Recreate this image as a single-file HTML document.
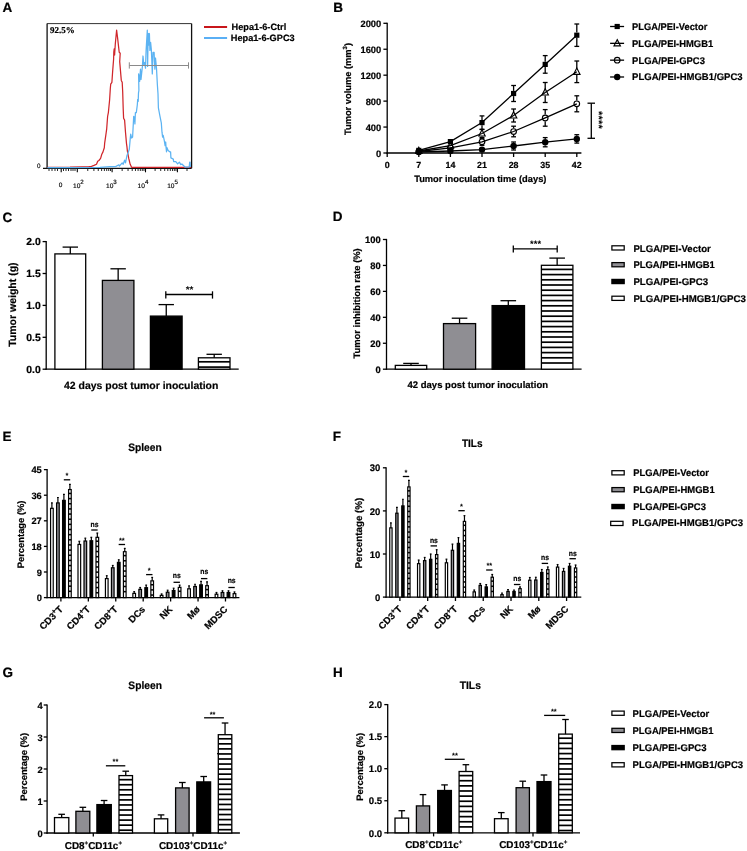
<!DOCTYPE html>
<html><head><meta charset="utf-8"><style>
html,body{margin:0;padding:0;background:#fff;}
svg{display:block;}

</style></head><body>
<svg width="747" height="851" viewBox="0 0 747 851" style="will-change:transform" text-rendering="geometricPrecision">
<style>text[font-weight="bold"]{stroke:#000;stroke-width:0.2px;paint-order:stroke}text.st{stroke:none}</style>
<rect x="0" y="0" width="747" height="851" fill="#fff"/>
<text x="2.60" y="11.80" font-size="13.5" font-weight="bold" font-family="'Liberation Sans', sans-serif" text-anchor="start" fill="#000">A</text>
<text x="333.20" y="12.20" font-size="13.5" font-weight="bold" font-family="'Liberation Sans', sans-serif" text-anchor="start" fill="#000">B</text>
<text x="2.40" y="222.10" font-size="13.5" font-weight="bold" font-family="'Liberation Sans', sans-serif" text-anchor="start" fill="#000">C</text>
<text x="332.70" y="221.40" font-size="13.5" font-weight="bold" font-family="'Liberation Sans', sans-serif" text-anchor="start" fill="#000">D</text>
<text x="2.40" y="441.40" font-size="13.5" font-weight="bold" font-family="'Liberation Sans', sans-serif" text-anchor="start" fill="#000">E</text>
<text x="332.70" y="441.40" font-size="13.5" font-weight="bold" font-family="'Liberation Sans', sans-serif" text-anchor="start" fill="#000">F</text>
<text x="2.40" y="677.10" font-size="13.5" font-weight="bold" font-family="'Liberation Sans', sans-serif" text-anchor="start" fill="#000">G</text>
<text x="332.90" y="677.00" font-size="13.5" font-weight="bold" font-family="'Liberation Sans', sans-serif" text-anchor="start" fill="#000">H</text>
<line x1="47.10" y1="23.60" x2="191.60" y2="23.60" stroke="#333" stroke-width="1.0"/>
<line x1="191.60" y1="23.60" x2="191.60" y2="168.30" stroke="#111" stroke-width="1.3"/>
<line x1="47.10" y1="23.60" x2="47.10" y2="168.30" stroke="#111" stroke-width="1.3"/>
<line x1="43.00" y1="168.30" x2="191.60" y2="168.30" stroke="#111" stroke-width="1.3"/>
<text x="37.10" y="168.40" font-size="6.3" font-weight="normal" font-family="'Liberation Sans', sans-serif" text-anchor="start" fill="#000" stroke="#000" stroke-width="0.15">0</text>
<text x="49.90" y="32.50" font-size="9" font-weight="bold" font-family="'Liberation Serif', serif" text-anchor="start" fill="#000">92.5%</text>
<line x1="61.20" y1="168.30" x2="61.20" y2="172.30" stroke="#000" stroke-width="1.1"/>
<line x1="77.30" y1="168.30" x2="77.30" y2="172.30" stroke="#000" stroke-width="1.1"/>
<line x1="112.10" y1="168.30" x2="112.10" y2="172.30" stroke="#000" stroke-width="1.1"/>
<line x1="145.50" y1="168.30" x2="145.50" y2="172.30" stroke="#000" stroke-width="1.1"/>
<line x1="177.40" y1="168.30" x2="177.40" y2="172.30" stroke="#000" stroke-width="1.1"/>
<line x1="49.00" y1="168.30" x2="49.00" y2="171.00" stroke="#111" stroke-width="0.9"/>
<line x1="52.00" y1="168.30" x2="52.00" y2="171.00" stroke="#111" stroke-width="0.9"/>
<line x1="55.00" y1="168.30" x2="55.00" y2="171.00" stroke="#111" stroke-width="0.9"/>
<line x1="57.50" y1="168.30" x2="57.50" y2="171.00" stroke="#111" stroke-width="0.9"/>
<line x1="63.50" y1="168.30" x2="63.50" y2="171.00" stroke="#111" stroke-width="0.9"/>
<line x1="66.00" y1="168.30" x2="66.00" y2="171.00" stroke="#111" stroke-width="0.9"/>
<line x1="68.50" y1="168.30" x2="68.50" y2="171.00" stroke="#111" stroke-width="0.9"/>
<line x1="71.00" y1="168.30" x2="71.00" y2="171.00" stroke="#111" stroke-width="0.9"/>
<line x1="73.00" y1="168.30" x2="73.00" y2="171.00" stroke="#111" stroke-width="0.9"/>
<line x1="75.00" y1="168.30" x2="75.00" y2="171.00" stroke="#111" stroke-width="0.9"/>
<line x1="87.78" y1="168.30" x2="87.78" y2="171.00" stroke="#111" stroke-width="0.9"/>
<line x1="93.90" y1="168.30" x2="93.90" y2="171.00" stroke="#111" stroke-width="0.9"/>
<line x1="98.25" y1="168.30" x2="98.25" y2="171.00" stroke="#111" stroke-width="0.9"/>
<line x1="101.62" y1="168.30" x2="101.62" y2="171.00" stroke="#111" stroke-width="0.9"/>
<line x1="104.38" y1="168.30" x2="104.38" y2="171.00" stroke="#111" stroke-width="0.9"/>
<line x1="106.71" y1="168.30" x2="106.71" y2="171.00" stroke="#111" stroke-width="0.9"/>
<line x1="108.73" y1="168.30" x2="108.73" y2="171.00" stroke="#111" stroke-width="0.9"/>
<line x1="110.51" y1="168.30" x2="110.51" y2="171.00" stroke="#111" stroke-width="0.9"/>
<line x1="122.15" y1="168.30" x2="122.15" y2="171.00" stroke="#111" stroke-width="0.9"/>
<line x1="128.04" y1="168.30" x2="128.04" y2="171.00" stroke="#111" stroke-width="0.9"/>
<line x1="132.21" y1="168.30" x2="132.21" y2="171.00" stroke="#111" stroke-width="0.9"/>
<line x1="135.45" y1="168.30" x2="135.45" y2="171.00" stroke="#111" stroke-width="0.9"/>
<line x1="138.09" y1="168.30" x2="138.09" y2="171.00" stroke="#111" stroke-width="0.9"/>
<line x1="140.33" y1="168.30" x2="140.33" y2="171.00" stroke="#111" stroke-width="0.9"/>
<line x1="142.26" y1="168.30" x2="142.26" y2="171.00" stroke="#111" stroke-width="0.9"/>
<line x1="143.97" y1="168.30" x2="143.97" y2="171.00" stroke="#111" stroke-width="0.9"/>
<line x1="155.10" y1="168.30" x2="155.10" y2="171.00" stroke="#111" stroke-width="0.9"/>
<line x1="160.72" y1="168.30" x2="160.72" y2="171.00" stroke="#111" stroke-width="0.9"/>
<line x1="164.71" y1="168.30" x2="164.71" y2="171.00" stroke="#111" stroke-width="0.9"/>
<line x1="167.80" y1="168.30" x2="167.80" y2="171.00" stroke="#111" stroke-width="0.9"/>
<line x1="170.32" y1="168.30" x2="170.32" y2="171.00" stroke="#111" stroke-width="0.9"/>
<line x1="172.46" y1="168.30" x2="172.46" y2="171.00" stroke="#111" stroke-width="0.9"/>
<line x1="174.31" y1="168.30" x2="174.31" y2="171.00" stroke="#111" stroke-width="0.9"/>
<line x1="175.94" y1="168.30" x2="175.94" y2="171.00" stroke="#111" stroke-width="0.9"/>
<line x1="187.00" y1="168.30" x2="187.00" y2="171.00" stroke="#111" stroke-width="0.9"/>
<text x="58.80" y="187.30" font-size="6.5" font-weight="normal" font-family="'Liberation Sans', sans-serif" text-anchor="start" fill="#000" stroke="#000" stroke-width="0.15">0</text>
<text x="73.00" y="187.50" font-size="6.6" font-weight="normal" font-family="'Liberation Sans', sans-serif" text-anchor="start" fill="#000" stroke="#000" stroke-width="0.15">10</text>
<text x="80.30" y="183.60" font-size="6.2" font-weight="normal" font-family="'Liberation Sans', sans-serif" text-anchor="start" fill="#000" stroke="#000" stroke-width="0.15">2</text>
<text x="106.00" y="187.50" font-size="6.6" font-weight="normal" font-family="'Liberation Sans', sans-serif" text-anchor="start" fill="#000" stroke="#000" stroke-width="0.15">10</text>
<text x="113.30" y="183.60" font-size="6.2" font-weight="normal" font-family="'Liberation Sans', sans-serif" text-anchor="start" fill="#000" stroke="#000" stroke-width="0.15">3</text>
<text x="137.60" y="187.50" font-size="6.6" font-weight="normal" font-family="'Liberation Sans', sans-serif" text-anchor="start" fill="#000" stroke="#000" stroke-width="0.15">10</text>
<text x="144.90" y="183.60" font-size="6.2" font-weight="normal" font-family="'Liberation Sans', sans-serif" text-anchor="start" fill="#000" stroke="#000" stroke-width="0.15">4</text>
<text x="167.20" y="187.50" font-size="6.6" font-weight="normal" font-family="'Liberation Sans', sans-serif" text-anchor="start" fill="#000" stroke="#000" stroke-width="0.15">10</text>
<text x="174.50" y="183.60" font-size="6.2" font-weight="normal" font-family="'Liberation Sans', sans-serif" text-anchor="start" fill="#000" stroke="#000" stroke-width="0.15">5</text>
<path d="M47.50 167.40 L70.00 167.20 L82.50 166.80 L88.20 166.80 L91.50 166.30 L94.00 165.40 L96.50 164.20 L97.70 161.30 L98.90 160.50 L100.60 158.40 L101.80 154.30 L103.00 151.90 L104.30 147.70 L104.70 142.80 L105.90 134.60 L106.70 128.80 L107.60 116.50 L108.40 112.30 L109.60 100.00 L110.30 88.80 L110.70 84.20 L111.90 82.30 L112.60 72.00 L113.60 59.30 L113.80 52.00 L114.20 48.90 L114.60 55.00 L115.30 44.00 L116.60 30.20 L117.50 37.20 L119.20 52.20 L120.20 53.20 L119.70 61.60 L121.30 80.40 L122.20 82.30 L122.70 92.00 L123.20 108.80 L123.60 118.20 L124.60 120.10 L125.50 132.30 L126.50 143.60 L126.90 146.40 L127.40 151.10 L128.80 158.70 L130.20 164.30 L131.60 167.30 L191.20 167.30" stroke="#d0262b" stroke-width="1.25" fill="none" stroke-linejoin="round"/>
<path d="M47.50 167.60 L100.00 167.30 L110.00 166.60 L115.60 166.60 L118.90 164.80 L119.40 166.20 L122.20 162.90 L123.20 164.30 L124.60 160.10 L125.50 162.90 L126.90 155.80 L128.30 152.10 L129.30 149.20 L130.20 138.90 L130.70 134.20 L131.60 138.00 L132.60 137.00 L133.00 129.50 L133.70 116.30 L134.50 118.20 L134.90 123.90 L135.40 112.60 L136.30 112.60 L137.30 105.00 L137.70 99.40 L138.20 101.30 L138.50 92.80 L138.90 90.50 L138.60 73.90 L139.60 81.40 L140.50 69.20 L141.00 79.50 L142.40 66.40 L143.00 56.00 L143.80 64.50 L144.70 62.60 L145.50 68.20 L146.10 50.40 L146.60 42.00 L147.30 30.20 L147.60 66.40 L148.10 40.00 L148.50 33.50 L149.00 45.00 L149.40 33.50 L149.90 50.40 L150.60 42.40 L151.30 49.40 L151.80 60.00 L152.30 73.90 L153.00 52.30 L154.10 52.30 L154.50 62.00 L154.90 69.20 L155.50 58.00 L156.50 68.20 L157.40 85.20 L158.00 93.80 L158.40 107.90 L159.80 115.40 L161.30 122.90 L162.00 132.20 L162.60 137.10 L163.20 135.30 L164.20 140.20 L165.10 145.60 L165.70 142.00 L166.00 146.90 L166.50 151.80 L166.90 147.50 L168.10 150.50 L169.70 151.80 L170.60 151.80 L170.90 157.90 L173.30 159.10 L173.60 161.50 L175.80 161.50 L177.60 163.90 L179.40 162.10 L180.60 164.60 L181.90 164.00 L183.70 165.80 L184.90 167.00 L189.20 167.00 L189.70 162.10 L190.10 162.10 L190.40 167.00" stroke="#5cb3f2" stroke-width="1.25" fill="none" stroke-linejoin="round"/>
<line x1="129.30" y1="65.50" x2="188.50" y2="65.50" stroke="#8a8a8a" stroke-width="1.0"/>
<line x1="129.30" y1="62.30" x2="129.30" y2="68.60" stroke="#8a8a8a" stroke-width="1.0"/>
<line x1="188.50" y1="62.30" x2="188.50" y2="68.60" stroke="#8a8a8a" stroke-width="1.0"/>
<line x1="204.00" y1="27.00" x2="227.10" y2="27.00" stroke="#c8161b" stroke-width="2.0"/>
<line x1="204.00" y1="38.00" x2="227.10" y2="38.00" stroke="#5aaff5" stroke-width="2.0"/>
<text x="231.60" y="29.90" font-size="9.2" font-weight="bold" font-family="'Liberation Sans', sans-serif" text-anchor="start" fill="#000">Hepa1-6-Ctrl</text>
<text x="230.80" y="41.10" font-size="9.2" font-weight="bold" font-family="'Liberation Sans', sans-serif" text-anchor="start" fill="#000">Hepa1-6-GPC3</text>
<line x1="387.20" y1="22.65" x2="387.20" y2="153.65" stroke="#000" stroke-width="1.3"/>
<line x1="386.55" y1="153.00" x2="581.40" y2="153.00" stroke="#000" stroke-width="1.3"/>
<line x1="383.40" y1="153.00" x2="387.20" y2="153.00" stroke="#000" stroke-width="1.3"/>
<text x="381.20" y="156.50" font-size="9.3" font-weight="bold" font-family="'Liberation Sans', sans-serif" text-anchor="end" fill="#000">0</text>
<line x1="383.40" y1="127.06" x2="387.20" y2="127.06" stroke="#000" stroke-width="1.3"/>
<text x="381.20" y="130.56" font-size="9.3" font-weight="bold" font-family="'Liberation Sans', sans-serif" text-anchor="end" fill="#000">400</text>
<line x1="383.40" y1="101.12" x2="387.20" y2="101.12" stroke="#000" stroke-width="1.3"/>
<text x="381.20" y="104.62" font-size="9.3" font-weight="bold" font-family="'Liberation Sans', sans-serif" text-anchor="end" fill="#000">800</text>
<line x1="383.40" y1="75.18" x2="387.20" y2="75.18" stroke="#000" stroke-width="1.3"/>
<text x="381.20" y="78.68" font-size="9.3" font-weight="bold" font-family="'Liberation Sans', sans-serif" text-anchor="end" fill="#000">1200</text>
<line x1="383.40" y1="49.24" x2="387.20" y2="49.24" stroke="#000" stroke-width="1.3"/>
<text x="381.20" y="52.74" font-size="9.3" font-weight="bold" font-family="'Liberation Sans', sans-serif" text-anchor="end" fill="#000">1600</text>
<line x1="383.40" y1="23.30" x2="387.20" y2="23.30" stroke="#000" stroke-width="1.3"/>
<text x="381.20" y="26.80" font-size="9.3" font-weight="bold" font-family="'Liberation Sans', sans-serif" text-anchor="end" fill="#000">2000</text>
<line x1="387.20" y1="153.00" x2="387.20" y2="157.00" stroke="#000" stroke-width="1.3"/>
<text x="387.20" y="167.90" font-size="8.9" font-weight="bold" font-family="'Liberation Sans', sans-serif" text-anchor="middle" fill="#000">0</text>
<line x1="418.80" y1="153.00" x2="418.80" y2="157.00" stroke="#000" stroke-width="1.3"/>
<text x="418.80" y="167.90" font-size="8.9" font-weight="bold" font-family="'Liberation Sans', sans-serif" text-anchor="middle" fill="#000">7</text>
<line x1="450.40" y1="153.00" x2="450.40" y2="157.00" stroke="#000" stroke-width="1.3"/>
<text x="450.40" y="167.90" font-size="8.9" font-weight="bold" font-family="'Liberation Sans', sans-serif" text-anchor="middle" fill="#000">14</text>
<line x1="482.00" y1="153.00" x2="482.00" y2="157.00" stroke="#000" stroke-width="1.3"/>
<text x="482.00" y="167.90" font-size="8.9" font-weight="bold" font-family="'Liberation Sans', sans-serif" text-anchor="middle" fill="#000">21</text>
<line x1="513.60" y1="153.00" x2="513.60" y2="157.00" stroke="#000" stroke-width="1.3"/>
<text x="513.60" y="167.90" font-size="8.9" font-weight="bold" font-family="'Liberation Sans', sans-serif" text-anchor="middle" fill="#000">28</text>
<line x1="545.20" y1="153.00" x2="545.20" y2="157.00" stroke="#000" stroke-width="1.3"/>
<text x="545.20" y="167.90" font-size="8.9" font-weight="bold" font-family="'Liberation Sans', sans-serif" text-anchor="middle" fill="#000">35</text>
<line x1="576.80" y1="153.00" x2="576.80" y2="157.00" stroke="#000" stroke-width="1.3"/>
<text x="576.80" y="167.90" font-size="8.9" font-weight="bold" font-family="'Liberation Sans', sans-serif" text-anchor="middle" fill="#000">42</text>
<text x="480.30" y="182.00" font-size="9.32" font-weight="bold" font-family="'Liberation Sans', sans-serif" text-anchor="middle" fill="#000">Tumor inoculation time (days)</text>
<text transform="translate(350.6 89) rotate(-90)" font-size="9.3" font-weight="bold" font-family="'Liberation Sans', sans-serif" text-anchor="middle">Tumor volume (mm<tspan font-size="6" dy="-3.6">3</tspan><tspan dy="3.6">)</tspan></text>
<path d="M418.80 150.40 L450.40 141.60 L482.00 122.60 L513.60 93.50 L545.20 64.40 L576.80 35.20" stroke="#000" stroke-width="1.3" fill="none"/>
<path d="M418.80 151.00 L450.40 145.60 L482.00 133.50 L513.60 115.50 L545.20 92.50 L576.80 71.80" stroke="#000" stroke-width="1.3" fill="none"/>
<path d="M418.80 151.50 L450.40 147.80 L482.00 141.80 L513.60 131.50 L545.20 117.90 L576.80 103.80" stroke="#000" stroke-width="1.3" fill="none"/>
<path d="M418.80 152.00 L450.40 151.00 L482.00 149.60 L513.60 146.00 L545.20 142.20 L576.80 138.90" stroke="#000" stroke-width="1.3" fill="none"/>
<line x1="482.00" y1="115.90" x2="482.00" y2="120.00" stroke="#000" stroke-width="1.3"/>
<line x1="482.00" y1="125.20" x2="482.00" y2="129.30" stroke="#000" stroke-width="1.3"/>
<line x1="479.60" y1="115.90" x2="484.40" y2="115.90" stroke="#000" stroke-width="1.3"/>
<line x1="479.60" y1="129.30" x2="484.40" y2="129.30" stroke="#000" stroke-width="1.3"/>
<line x1="513.60" y1="85.50" x2="513.60" y2="90.90" stroke="#000" stroke-width="1.3"/>
<line x1="513.60" y1="96.10" x2="513.60" y2="101.50" stroke="#000" stroke-width="1.3"/>
<line x1="511.20" y1="85.50" x2="516.00" y2="85.50" stroke="#000" stroke-width="1.3"/>
<line x1="511.20" y1="101.50" x2="516.00" y2="101.50" stroke="#000" stroke-width="1.3"/>
<line x1="545.20" y1="55.60" x2="545.20" y2="61.80" stroke="#000" stroke-width="1.3"/>
<line x1="545.20" y1="67.00" x2="545.20" y2="73.20" stroke="#000" stroke-width="1.3"/>
<line x1="542.80" y1="55.60" x2="547.60" y2="55.60" stroke="#000" stroke-width="1.3"/>
<line x1="542.80" y1="73.20" x2="547.60" y2="73.20" stroke="#000" stroke-width="1.3"/>
<line x1="576.80" y1="24.00" x2="576.80" y2="32.60" stroke="#000" stroke-width="1.3"/>
<line x1="576.80" y1="37.80" x2="576.80" y2="46.40" stroke="#000" stroke-width="1.3"/>
<line x1="574.40" y1="24.00" x2="579.20" y2="24.00" stroke="#000" stroke-width="1.3"/>
<line x1="574.40" y1="46.40" x2="579.20" y2="46.40" stroke="#000" stroke-width="1.3"/>
<line x1="482.00" y1="129.50" x2="482.00" y2="130.50" stroke="#000" stroke-width="1.3"/>
<line x1="482.00" y1="136.50" x2="482.00" y2="137.50" stroke="#000" stroke-width="1.3"/>
<line x1="479.60" y1="129.50" x2="484.40" y2="129.50" stroke="#000" stroke-width="1.3"/>
<line x1="479.60" y1="137.50" x2="484.40" y2="137.50" stroke="#000" stroke-width="1.3"/>
<line x1="513.60" y1="109.00" x2="513.60" y2="112.50" stroke="#000" stroke-width="1.3"/>
<line x1="513.60" y1="118.50" x2="513.60" y2="122.00" stroke="#000" stroke-width="1.3"/>
<line x1="511.20" y1="109.00" x2="516.00" y2="109.00" stroke="#000" stroke-width="1.3"/>
<line x1="511.20" y1="122.00" x2="516.00" y2="122.00" stroke="#000" stroke-width="1.3"/>
<line x1="545.20" y1="82.50" x2="545.20" y2="89.50" stroke="#000" stroke-width="1.3"/>
<line x1="545.20" y1="95.50" x2="545.20" y2="102.50" stroke="#000" stroke-width="1.3"/>
<line x1="542.80" y1="82.50" x2="547.60" y2="82.50" stroke="#000" stroke-width="1.3"/>
<line x1="542.80" y1="102.50" x2="547.60" y2="102.50" stroke="#000" stroke-width="1.3"/>
<line x1="576.80" y1="61.00" x2="576.80" y2="68.80" stroke="#000" stroke-width="1.3"/>
<line x1="576.80" y1="74.80" x2="576.80" y2="82.60" stroke="#000" stroke-width="1.3"/>
<line x1="574.40" y1="61.00" x2="579.20" y2="61.00" stroke="#000" stroke-width="1.3"/>
<line x1="574.40" y1="82.60" x2="579.20" y2="82.60" stroke="#000" stroke-width="1.3"/>
<line x1="482.00" y1="138.30" x2="482.00" y2="138.50" stroke="#000" stroke-width="1.3"/>
<line x1="482.00" y1="145.10" x2="482.00" y2="145.30" stroke="#000" stroke-width="1.3"/>
<line x1="479.60" y1="138.30" x2="484.40" y2="138.30" stroke="#000" stroke-width="1.3"/>
<line x1="479.60" y1="145.30" x2="484.40" y2="145.30" stroke="#000" stroke-width="1.3"/>
<line x1="513.60" y1="126.20" x2="513.60" y2="128.20" stroke="#000" stroke-width="1.3"/>
<line x1="513.60" y1="134.80" x2="513.60" y2="136.80" stroke="#000" stroke-width="1.3"/>
<line x1="511.20" y1="126.20" x2="516.00" y2="126.20" stroke="#000" stroke-width="1.3"/>
<line x1="511.20" y1="136.80" x2="516.00" y2="136.80" stroke="#000" stroke-width="1.3"/>
<line x1="545.20" y1="109.60" x2="545.20" y2="114.60" stroke="#000" stroke-width="1.3"/>
<line x1="545.20" y1="121.20" x2="545.20" y2="126.20" stroke="#000" stroke-width="1.3"/>
<line x1="542.80" y1="109.60" x2="547.60" y2="109.60" stroke="#000" stroke-width="1.3"/>
<line x1="542.80" y1="126.20" x2="547.60" y2="126.20" stroke="#000" stroke-width="1.3"/>
<line x1="576.80" y1="95.80" x2="576.80" y2="100.50" stroke="#000" stroke-width="1.3"/>
<line x1="576.80" y1="107.10" x2="576.80" y2="111.80" stroke="#000" stroke-width="1.3"/>
<line x1="574.40" y1="95.80" x2="579.20" y2="95.80" stroke="#000" stroke-width="1.3"/>
<line x1="574.40" y1="111.80" x2="579.20" y2="111.80" stroke="#000" stroke-width="1.3"/>
<line x1="513.60" y1="142.00" x2="513.60" y2="142.80" stroke="#000" stroke-width="1.3"/>
<line x1="513.60" y1="149.20" x2="513.60" y2="150.00" stroke="#000" stroke-width="1.3"/>
<line x1="511.20" y1="142.00" x2="516.00" y2="142.00" stroke="#000" stroke-width="1.3"/>
<line x1="511.20" y1="150.00" x2="516.00" y2="150.00" stroke="#000" stroke-width="1.3"/>
<line x1="545.20" y1="137.60" x2="545.20" y2="139.00" stroke="#000" stroke-width="1.3"/>
<line x1="545.20" y1="145.40" x2="545.20" y2="146.80" stroke="#000" stroke-width="1.3"/>
<line x1="542.80" y1="137.60" x2="547.60" y2="137.60" stroke="#000" stroke-width="1.3"/>
<line x1="542.80" y1="146.80" x2="547.60" y2="146.80" stroke="#000" stroke-width="1.3"/>
<line x1="576.80" y1="134.70" x2="576.80" y2="135.70" stroke="#000" stroke-width="1.3"/>
<line x1="576.80" y1="142.10" x2="576.80" y2="143.10" stroke="#000" stroke-width="1.3"/>
<line x1="574.40" y1="134.70" x2="579.20" y2="134.70" stroke="#000" stroke-width="1.3"/>
<line x1="574.40" y1="143.10" x2="579.20" y2="143.10" stroke="#000" stroke-width="1.3"/>
<rect x="416.20" y="147.80" width="5.20" height="5.20" fill="#000"/>
<rect x="447.80" y="139.00" width="5.20" height="5.20" fill="#000"/>
<rect x="479.40" y="120.00" width="5.20" height="5.20" fill="#000"/>
<rect x="511.00" y="90.90" width="5.20" height="5.20" fill="#000"/>
<rect x="542.60" y="61.80" width="5.20" height="5.20" fill="#000"/>
<rect x="574.20" y="32.60" width="5.20" height="5.20" fill="#000"/>
<path d="M418.80 147.30 L422.00 153.50 L415.60 153.50 Z" fill="none" stroke="#000" stroke-width="1.15" stroke-linejoin="miter"/>
<path d="M450.40 141.90 L453.60 148.10 L447.20 148.10 Z" fill="none" stroke="#000" stroke-width="1.15" stroke-linejoin="miter"/>
<path d="M482.00 129.80 L485.20 136.00 L478.80 136.00 Z" fill="none" stroke="#000" stroke-width="1.15" stroke-linejoin="miter"/>
<path d="M513.60 111.80 L516.80 118.00 L510.40 118.00 Z" fill="none" stroke="#000" stroke-width="1.15" stroke-linejoin="miter"/>
<path d="M545.20 88.80 L548.40 95.00 L542.00 95.00 Z" fill="none" stroke="#000" stroke-width="1.15" stroke-linejoin="miter"/>
<path d="M576.80 68.10 L580.00 74.30 L573.60 74.30 Z" fill="none" stroke="#000" stroke-width="1.15" stroke-linejoin="miter"/>
<circle cx="418.80" cy="151.50" r="2.80" fill="none" stroke="#000" stroke-width="1.15"/>
<circle cx="450.40" cy="147.80" r="2.80" fill="none" stroke="#000" stroke-width="1.15"/>
<circle cx="482.00" cy="141.80" r="2.80" fill="none" stroke="#000" stroke-width="1.15"/>
<circle cx="513.60" cy="131.50" r="2.80" fill="none" stroke="#000" stroke-width="1.15"/>
<circle cx="545.20" cy="117.90" r="2.80" fill="none" stroke="#000" stroke-width="1.15"/>
<circle cx="576.80" cy="103.80" r="2.80" fill="none" stroke="#000" stroke-width="1.15"/>
<circle cx="418.80" cy="152.00" r="3.20" fill="#000"/>
<circle cx="450.40" cy="151.00" r="3.20" fill="#000"/>
<circle cx="482.00" cy="149.60" r="3.20" fill="#000"/>
<circle cx="513.60" cy="146.00" r="3.20" fill="#000"/>
<circle cx="545.20" cy="142.20" r="3.20" fill="#000"/>
<circle cx="576.80" cy="138.90" r="3.20" fill="#000"/>
<line x1="591.30" y1="103.20" x2="591.30" y2="138.30" stroke="#000" stroke-width="1.3"/>
<line x1="587.50" y1="103.20" x2="595.00" y2="103.20" stroke="#000" stroke-width="1.3"/>
<line x1="587.50" y1="138.30" x2="595.00" y2="138.30" stroke="#000" stroke-width="1.3"/>
<text class="st" transform="translate(595.0 111.0) rotate(90)" font-size="11" letter-spacing="0.2" font-weight="bold" font-family="'Liberation Sans', sans-serif">****</text>
<rect x="614.60" y="23.90" width="5.20" height="5.20" fill="#000"/>
<line x1="610.10" y1="26.50" x2="624.10" y2="26.50" stroke="#000" stroke-width="1.3"/>
<text x="632.10" y="30.10" font-size="9.7" font-weight="bold" font-family="'Liberation Sans', sans-serif" text-anchor="start" fill="#000" textLength="75.20" lengthAdjust="spacingAndGlyphs">PLGA/PEI-Vector</text>
<path d="M617.20 39.63 L620.40 45.83 L614.00 45.83 Z" fill="none" stroke="#000" stroke-width="1.15" stroke-linejoin="miter"/>
<line x1="610.10" y1="43.33" x2="624.10" y2="43.33" stroke="#000" stroke-width="1.3"/>
<text x="632.10" y="47.00" font-size="9.7" font-weight="bold" font-family="'Liberation Sans', sans-serif" text-anchor="start" fill="#000" textLength="81.10" lengthAdjust="spacingAndGlyphs">PLGA/PEI-HMGB1</text>
<circle cx="617.20" cy="60.16" r="2.80" fill="none" stroke="#000" stroke-width="1.15"/>
<line x1="610.10" y1="60.16" x2="624.10" y2="60.16" stroke="#000" stroke-width="1.3"/>
<text x="632.10" y="63.50" font-size="9.7" font-weight="bold" font-family="'Liberation Sans', sans-serif" text-anchor="start" fill="#000" textLength="72.80" lengthAdjust="spacingAndGlyphs">PLGA/PEI-GPC3</text>
<circle cx="617.20" cy="76.99" r="3.20" fill="#000"/>
<line x1="610.10" y1="76.99" x2="624.10" y2="76.99" stroke="#000" stroke-width="1.3"/>
<text x="632.10" y="80.20" font-size="9.7" font-weight="bold" font-family="'Liberation Sans', sans-serif" text-anchor="start" fill="#000" textLength="110.50" lengthAdjust="spacingAndGlyphs">PLGA/PEI-HMGB1/GPC3</text>
<line x1="46.20" y1="241.00" x2="46.20" y2="369.85" stroke="#000" stroke-width="1.3"/>
<line x1="45.55" y1="369.20" x2="238.70" y2="369.20" stroke="#000" stroke-width="1.3"/>
<line x1="42.60" y1="369.20" x2="46.20" y2="369.20" stroke="#000" stroke-width="1.3"/>
<text x="40.80" y="372.90" font-size="10.4" font-weight="bold" font-family="'Liberation Sans', sans-serif" text-anchor="end" fill="#000">0.0</text>
<line x1="42.60" y1="337.30" x2="46.20" y2="337.30" stroke="#000" stroke-width="1.3"/>
<text x="40.80" y="341.00" font-size="10.4" font-weight="bold" font-family="'Liberation Sans', sans-serif" text-anchor="end" fill="#000">0.5</text>
<line x1="42.60" y1="305.40" x2="46.20" y2="305.40" stroke="#000" stroke-width="1.3"/>
<text x="40.80" y="309.10" font-size="10.4" font-weight="bold" font-family="'Liberation Sans', sans-serif" text-anchor="end" fill="#000">1.0</text>
<line x1="42.60" y1="273.50" x2="46.20" y2="273.50" stroke="#000" stroke-width="1.3"/>
<text x="40.80" y="277.20" font-size="10.4" font-weight="bold" font-family="'Liberation Sans', sans-serif" text-anchor="end" fill="#000">1.5</text>
<line x1="42.60" y1="241.60" x2="46.20" y2="241.60" stroke="#000" stroke-width="1.3"/>
<text x="40.80" y="245.30" font-size="10.4" font-weight="bold" font-family="'Liberation Sans', sans-serif" text-anchor="end" fill="#000">2.0</text>
<rect x="54.90" y="253.90" width="30.80" height="115.30" fill="#fff" stroke="#000" stroke-width="1.3"/>
<line x1="70.30" y1="247.10" x2="70.30" y2="253.90" stroke="#000" stroke-width="1.3"/>
<line x1="62.60" y1="247.10" x2="78.00" y2="247.10" stroke="#000" stroke-width="1.3"/>
<rect x="102.40" y="280.40" width="31.50" height="88.80" fill="#8f8e93" stroke="#000" stroke-width="1.3"/>
<line x1="118.15" y1="268.80" x2="118.15" y2="280.40" stroke="#000" stroke-width="1.3"/>
<line x1="110.45" y1="268.80" x2="125.85" y2="268.80" stroke="#000" stroke-width="1.3"/>
<rect x="150.40" y="316.10" width="31.70" height="53.10" fill="#000" stroke="#000" stroke-width="1.3"/>
<line x1="166.25" y1="304.60" x2="166.25" y2="316.10" stroke="#000" stroke-width="1.3"/>
<line x1="158.55" y1="304.60" x2="173.95" y2="304.60" stroke="#000" stroke-width="1.3"/>
<rect x="198.40" y="357.80" width="31.60" height="11.40" fill="#fff" stroke="#000" stroke-width="1.3"/>
<line x1="198.40" y1="361.80" x2="230.00" y2="361.80" stroke="#000" stroke-width="1.7"/>
<line x1="198.40" y1="367.10" x2="230.00" y2="367.10" stroke="#000" stroke-width="1.7"/>
<line x1="214.20" y1="354.30" x2="214.20" y2="357.80" stroke="#000" stroke-width="1.3"/>
<line x1="206.50" y1="354.30" x2="221.90" y2="354.30" stroke="#000" stroke-width="1.3"/>
<line x1="165.80" y1="294.50" x2="212.50" y2="294.50" stroke="#000" stroke-width="1.3"/>
<line x1="165.80" y1="291.30" x2="165.80" y2="298.60" stroke="#000" stroke-width="1.3"/>
<line x1="212.50" y1="291.30" x2="212.50" y2="298.60" stroke="#000" stroke-width="1.3"/>
<text x="189.60" y="293.20" font-size="10.0" font-weight="bold" font-family="'Liberation Sans', sans-serif" text-anchor="middle" fill="#000" class="st">**</text>
<text x="141.20" y="388.60" font-size="10.45" font-weight="bold" font-family="'Liberation Sans', sans-serif" text-anchor="middle" fill="#000">42 days post tumor inoculation</text>
<text transform="translate(16.4 304.6) rotate(-90)" font-size="10.5" font-weight="bold" font-family="'Liberation Sans', sans-serif" text-anchor="middle">Tumor weight (g)</text>
<line x1="386.50" y1="238.90" x2="386.50" y2="369.85" stroke="#000" stroke-width="1.3"/>
<line x1="385.85" y1="369.20" x2="581.60" y2="369.20" stroke="#000" stroke-width="1.3"/>
<line x1="382.90" y1="369.20" x2="386.50" y2="369.20" stroke="#000" stroke-width="1.3"/>
<text x="380.70" y="373.00" font-size="9.4" font-weight="bold" font-family="'Liberation Sans', sans-serif" text-anchor="end" fill="#000">0</text>
<line x1="382.90" y1="343.26" x2="386.50" y2="343.26" stroke="#000" stroke-width="1.3"/>
<text x="380.70" y="347.06" font-size="9.4" font-weight="bold" font-family="'Liberation Sans', sans-serif" text-anchor="end" fill="#000">20</text>
<line x1="382.90" y1="317.32" x2="386.50" y2="317.32" stroke="#000" stroke-width="1.3"/>
<text x="380.70" y="321.12" font-size="9.4" font-weight="bold" font-family="'Liberation Sans', sans-serif" text-anchor="end" fill="#000">40</text>
<line x1="382.90" y1="291.38" x2="386.50" y2="291.38" stroke="#000" stroke-width="1.3"/>
<text x="380.70" y="295.18" font-size="9.4" font-weight="bold" font-family="'Liberation Sans', sans-serif" text-anchor="end" fill="#000">60</text>
<line x1="382.90" y1="265.44" x2="386.50" y2="265.44" stroke="#000" stroke-width="1.3"/>
<text x="380.70" y="269.24" font-size="9.4" font-weight="bold" font-family="'Liberation Sans', sans-serif" text-anchor="end" fill="#000">80</text>
<line x1="382.90" y1="239.50" x2="386.50" y2="239.50" stroke="#000" stroke-width="1.3"/>
<text x="380.70" y="243.30" font-size="9.4" font-weight="bold" font-family="'Liberation Sans', sans-serif" text-anchor="end" fill="#000">100</text>
<rect x="395.30" y="365.40" width="31.40" height="3.80" fill="#fff" stroke="#000" stroke-width="1.3"/>
<line x1="411.00" y1="363.40" x2="411.00" y2="365.40" stroke="#000" stroke-width="1.3"/>
<line x1="403.20" y1="363.40" x2="418.80" y2="363.40" stroke="#000" stroke-width="1.3"/>
<rect x="443.50" y="323.60" width="32.10" height="45.60" fill="#8f8e93" stroke="#000" stroke-width="1.3"/>
<line x1="459.55" y1="318.20" x2="459.55" y2="323.60" stroke="#000" stroke-width="1.3"/>
<line x1="451.75" y1="318.20" x2="467.35" y2="318.20" stroke="#000" stroke-width="1.3"/>
<rect x="492.10" y="305.60" width="32.40" height="63.60" fill="#000" stroke="#000" stroke-width="1.3"/>
<line x1="508.30" y1="300.70" x2="508.30" y2="305.60" stroke="#000" stroke-width="1.3"/>
<line x1="500.50" y1="300.70" x2="516.10" y2="300.70" stroke="#000" stroke-width="1.3"/>
<rect x="541.40" y="265.30" width="31.50" height="103.90" fill="#fff" stroke="#000" stroke-width="1.3"/>
<line x1="541.40" y1="269.40" x2="572.90" y2="269.40" stroke="#000" stroke-width="1.7"/>
<line x1="541.40" y1="274.60" x2="572.90" y2="274.60" stroke="#000" stroke-width="1.7"/>
<line x1="541.40" y1="279.80" x2="572.90" y2="279.80" stroke="#000" stroke-width="1.7"/>
<line x1="541.40" y1="285.00" x2="572.90" y2="285.00" stroke="#000" stroke-width="1.7"/>
<line x1="541.40" y1="290.20" x2="572.90" y2="290.20" stroke="#000" stroke-width="1.7"/>
<line x1="541.40" y1="295.40" x2="572.90" y2="295.40" stroke="#000" stroke-width="1.7"/>
<line x1="541.40" y1="300.60" x2="572.90" y2="300.60" stroke="#000" stroke-width="1.7"/>
<line x1="541.40" y1="305.80" x2="572.90" y2="305.80" stroke="#000" stroke-width="1.7"/>
<line x1="541.40" y1="311.00" x2="572.90" y2="311.00" stroke="#000" stroke-width="1.7"/>
<line x1="541.40" y1="316.20" x2="572.90" y2="316.20" stroke="#000" stroke-width="1.7"/>
<line x1="541.40" y1="321.40" x2="572.90" y2="321.40" stroke="#000" stroke-width="1.7"/>
<line x1="541.40" y1="326.60" x2="572.90" y2="326.60" stroke="#000" stroke-width="1.7"/>
<line x1="541.40" y1="331.80" x2="572.90" y2="331.80" stroke="#000" stroke-width="1.7"/>
<line x1="541.40" y1="337.00" x2="572.90" y2="337.00" stroke="#000" stroke-width="1.7"/>
<line x1="541.40" y1="342.20" x2="572.90" y2="342.20" stroke="#000" stroke-width="1.7"/>
<line x1="541.40" y1="347.40" x2="572.90" y2="347.40" stroke="#000" stroke-width="1.7"/>
<line x1="541.40" y1="352.60" x2="572.90" y2="352.60" stroke="#000" stroke-width="1.7"/>
<line x1="541.40" y1="357.80" x2="572.90" y2="357.80" stroke="#000" stroke-width="1.7"/>
<line x1="541.40" y1="363.00" x2="572.90" y2="363.00" stroke="#000" stroke-width="1.7"/>
<line x1="557.15" y1="258.10" x2="557.15" y2="265.30" stroke="#000" stroke-width="1.3"/>
<line x1="549.35" y1="258.10" x2="564.95" y2="258.10" stroke="#000" stroke-width="1.3"/>
<line x1="513.30" y1="248.80" x2="557.20" y2="248.80" stroke="#000" stroke-width="1.3"/>
<line x1="513.30" y1="245.40" x2="513.30" y2="252.50" stroke="#000" stroke-width="1.3"/>
<line x1="557.20" y1="245.40" x2="557.20" y2="252.50" stroke="#000" stroke-width="1.3"/>
<text x="535.60" y="247.40" font-size="9.4" font-weight="bold" font-family="'Liberation Sans', sans-serif" text-anchor="middle" fill="#000" class="st">***</text>
<text x="477.80" y="387.50" font-size="9.5" font-weight="bold" font-family="'Liberation Sans', sans-serif" text-anchor="middle" fill="#000">42 days post tumor inoculation</text>
<text transform="translate(360.3 303.4) rotate(-90)" font-size="9.4" font-weight="bold" font-family="'Liberation Sans', sans-serif" text-anchor="middle">Tumor inhibition rate (%)</text>
<rect x="611.90" y="245.80" width="12.3" height="4.2" fill="#fff" stroke="#000" stroke-width="1.25"/>
<text x="633.40" y="251.50" font-size="9.7" font-weight="bold" font-family="'Liberation Sans', sans-serif" text-anchor="start" fill="#000" textLength="77.40" lengthAdjust="spacingAndGlyphs">PLGA/PEI-Vector</text>
<rect x="611.90" y="262.60" width="12.3" height="4.2" fill="#8f8e93" stroke="#000" stroke-width="1.25"/>
<text x="633.40" y="268.40" font-size="9.7" font-weight="bold" font-family="'Liberation Sans', sans-serif" text-anchor="start" fill="#000" textLength="81.50" lengthAdjust="spacingAndGlyphs">PLGA/PEI-HMGB1</text>
<rect x="611.90" y="279.40" width="12.3" height="4.2" fill="#000" stroke="#000" stroke-width="1.25"/>
<text x="633.40" y="284.90" font-size="9.7" font-weight="bold" font-family="'Liberation Sans', sans-serif" text-anchor="start" fill="#000" textLength="74.70" lengthAdjust="spacingAndGlyphs">PLGA/PEI-GPC3</text>
<rect x="611.90" y="296.20" width="12.3" height="4.2" fill="#fff" stroke="#000" stroke-width="1.25"/>
<text x="633.40" y="301.80" font-size="9.7" font-weight="bold" font-family="'Liberation Sans', sans-serif" text-anchor="start" fill="#000" textLength="112.40" lengthAdjust="spacingAndGlyphs">PLGA/PEI-HMGB1/GPC3</text>
<line x1="47.10" y1="469.07" x2="47.10" y2="598.15" stroke="#000" stroke-width="1.3"/>
<line x1="46.55" y1="597.60" x2="239.40" y2="597.60" stroke="#000" stroke-width="1.3"/>
<line x1="43.90" y1="597.60" x2="47.10" y2="597.60" stroke="#000" stroke-width="1.3"/>
<text x="41.80" y="601.20" font-size="9.3" font-weight="bold" font-family="'Liberation Sans', sans-serif" text-anchor="end" fill="#000">0</text>
<line x1="43.90" y1="572.00" x2="47.10" y2="572.00" stroke="#000" stroke-width="1.3"/>
<text x="41.80" y="575.60" font-size="9.3" font-weight="bold" font-family="'Liberation Sans', sans-serif" text-anchor="end" fill="#000">9</text>
<line x1="43.90" y1="546.41" x2="47.10" y2="546.41" stroke="#000" stroke-width="1.3"/>
<text x="41.80" y="550.01" font-size="9.3" font-weight="bold" font-family="'Liberation Sans', sans-serif" text-anchor="end" fill="#000">18</text>
<line x1="43.90" y1="520.81" x2="47.10" y2="520.81" stroke="#000" stroke-width="1.3"/>
<text x="41.80" y="524.41" font-size="9.3" font-weight="bold" font-family="'Liberation Sans', sans-serif" text-anchor="end" fill="#000">27</text>
<line x1="43.90" y1="495.22" x2="47.10" y2="495.22" stroke="#000" stroke-width="1.3"/>
<text x="41.80" y="498.82" font-size="9.3" font-weight="bold" font-family="'Liberation Sans', sans-serif" text-anchor="end" fill="#000">36</text>
<line x1="43.90" y1="469.62" x2="47.10" y2="469.62" stroke="#000" stroke-width="1.3"/>
<text x="41.80" y="473.22" font-size="9.3" font-weight="bold" font-family="'Liberation Sans', sans-serif" text-anchor="end" fill="#000">45</text>
<line x1="60.90" y1="597.60" x2="60.90" y2="601.50" stroke="#000" stroke-width="1.3"/>
<line x1="88.33" y1="597.60" x2="88.33" y2="601.50" stroke="#000" stroke-width="1.3"/>
<line x1="115.76" y1="597.60" x2="115.76" y2="601.50" stroke="#000" stroke-width="1.3"/>
<line x1="143.19" y1="597.60" x2="143.19" y2="601.50" stroke="#000" stroke-width="1.3"/>
<line x1="170.62" y1="597.60" x2="170.62" y2="601.50" stroke="#000" stroke-width="1.3"/>
<line x1="198.05" y1="597.60" x2="198.05" y2="601.50" stroke="#000" stroke-width="1.3"/>
<line x1="225.48" y1="597.60" x2="225.48" y2="601.50" stroke="#000" stroke-width="1.3"/>
<rect x="50.58" y="508.33" width="2.65" height="89.27" fill="#fff" stroke="#000" stroke-width="1.2"/>
<line x1="51.90" y1="502.89" x2="51.90" y2="508.33" stroke="#000" stroke-width="1.2"/>
<line x1="51.00" y1="502.89" x2="52.80" y2="502.89" stroke="#000" stroke-width="1.2"/>
<rect x="56.58" y="502.93" width="2.65" height="94.67" fill="#8f8e93" stroke="#000" stroke-width="1.2"/>
<line x1="57.90" y1="497.49" x2="57.90" y2="502.93" stroke="#000" stroke-width="1.2"/>
<line x1="57.00" y1="497.49" x2="58.80" y2="497.49" stroke="#000" stroke-width="1.2"/>
<rect x="62.58" y="500.37" width="2.65" height="97.23" fill="#000" stroke="#000" stroke-width="1.2"/>
<line x1="63.90" y1="494.36" x2="63.90" y2="500.37" stroke="#000" stroke-width="1.2"/>
<line x1="63.00" y1="494.36" x2="64.80" y2="494.36" stroke="#000" stroke-width="1.2"/>
<rect x="68.58" y="489.56" width="2.65" height="108.04" fill="#fff" stroke="#000" stroke-width="1.2"/>
<line x1="68.58" y1="493.46" x2="71.23" y2="493.46" stroke="#000" stroke-width="1.55"/>
<line x1="68.58" y1="498.61" x2="71.23" y2="498.61" stroke="#000" stroke-width="1.55"/>
<line x1="68.58" y1="503.76" x2="71.23" y2="503.76" stroke="#000" stroke-width="1.55"/>
<line x1="68.58" y1="508.91" x2="71.23" y2="508.91" stroke="#000" stroke-width="1.55"/>
<line x1="68.58" y1="514.06" x2="71.23" y2="514.06" stroke="#000" stroke-width="1.55"/>
<line x1="68.58" y1="519.21" x2="71.23" y2="519.21" stroke="#000" stroke-width="1.55"/>
<line x1="68.58" y1="524.36" x2="71.23" y2="524.36" stroke="#000" stroke-width="1.55"/>
<line x1="68.58" y1="529.51" x2="71.23" y2="529.51" stroke="#000" stroke-width="1.55"/>
<line x1="68.58" y1="534.66" x2="71.23" y2="534.66" stroke="#000" stroke-width="1.55"/>
<line x1="68.58" y1="539.81" x2="71.23" y2="539.81" stroke="#000" stroke-width="1.55"/>
<line x1="68.58" y1="544.96" x2="71.23" y2="544.96" stroke="#000" stroke-width="1.55"/>
<line x1="68.58" y1="550.11" x2="71.23" y2="550.11" stroke="#000" stroke-width="1.55"/>
<line x1="68.58" y1="555.26" x2="71.23" y2="555.26" stroke="#000" stroke-width="1.55"/>
<line x1="68.58" y1="560.41" x2="71.23" y2="560.41" stroke="#000" stroke-width="1.55"/>
<line x1="68.58" y1="565.56" x2="71.23" y2="565.56" stroke="#000" stroke-width="1.55"/>
<line x1="68.58" y1="570.71" x2="71.23" y2="570.71" stroke="#000" stroke-width="1.55"/>
<line x1="68.58" y1="575.86" x2="71.23" y2="575.86" stroke="#000" stroke-width="1.55"/>
<line x1="68.58" y1="581.01" x2="71.23" y2="581.01" stroke="#000" stroke-width="1.55"/>
<line x1="68.58" y1="586.16" x2="71.23" y2="586.16" stroke="#000" stroke-width="1.55"/>
<line x1="68.58" y1="591.31" x2="71.23" y2="591.31" stroke="#000" stroke-width="1.55"/>
<line x1="69.90" y1="484.41" x2="69.90" y2="489.56" stroke="#000" stroke-width="1.2"/>
<line x1="69.00" y1="484.41" x2="70.80" y2="484.41" stroke="#000" stroke-width="1.2"/>
<rect x="78.00" y="544.45" width="2.65" height="53.15" fill="#fff" stroke="#000" stroke-width="1.2"/>
<line x1="79.33" y1="541.29" x2="79.33" y2="544.45" stroke="#000" stroke-width="1.2"/>
<line x1="78.43" y1="541.29" x2="80.23" y2="541.29" stroke="#000" stroke-width="1.2"/>
<rect x="84.00" y="541.04" width="2.65" height="56.56" fill="#8f8e93" stroke="#000" stroke-width="1.2"/>
<line x1="85.33" y1="538.16" x2="85.33" y2="541.04" stroke="#000" stroke-width="1.2"/>
<line x1="84.43" y1="538.16" x2="86.23" y2="538.16" stroke="#000" stroke-width="1.2"/>
<rect x="90.00" y="540.75" width="2.65" height="56.85" fill="#000" stroke="#000" stroke-width="1.2"/>
<line x1="91.33" y1="537.31" x2="91.33" y2="540.75" stroke="#000" stroke-width="1.2"/>
<line x1="90.43" y1="537.31" x2="92.23" y2="537.31" stroke="#000" stroke-width="1.2"/>
<rect x="96.00" y="537.34" width="2.65" height="60.26" fill="#fff" stroke="#000" stroke-width="1.2"/>
<line x1="96.00" y1="541.24" x2="98.66" y2="541.24" stroke="#000" stroke-width="1.55"/>
<line x1="96.00" y1="546.39" x2="98.66" y2="546.39" stroke="#000" stroke-width="1.55"/>
<line x1="96.00" y1="551.54" x2="98.66" y2="551.54" stroke="#000" stroke-width="1.55"/>
<line x1="96.00" y1="556.69" x2="98.66" y2="556.69" stroke="#000" stroke-width="1.55"/>
<line x1="96.00" y1="561.84" x2="98.66" y2="561.84" stroke="#000" stroke-width="1.55"/>
<line x1="96.00" y1="566.99" x2="98.66" y2="566.99" stroke="#000" stroke-width="1.55"/>
<line x1="96.00" y1="572.14" x2="98.66" y2="572.14" stroke="#000" stroke-width="1.55"/>
<line x1="96.00" y1="577.29" x2="98.66" y2="577.29" stroke="#000" stroke-width="1.55"/>
<line x1="96.00" y1="582.44" x2="98.66" y2="582.44" stroke="#000" stroke-width="1.55"/>
<line x1="96.00" y1="587.59" x2="98.66" y2="587.59" stroke="#000" stroke-width="1.55"/>
<line x1="96.00" y1="592.74" x2="98.66" y2="592.74" stroke="#000" stroke-width="1.55"/>
<line x1="97.33" y1="533.04" x2="97.33" y2="537.34" stroke="#000" stroke-width="1.2"/>
<line x1="96.43" y1="533.04" x2="98.23" y2="533.04" stroke="#000" stroke-width="1.2"/>
<rect x="105.43" y="578.58" width="2.65" height="19.02" fill="#fff" stroke="#000" stroke-width="1.2"/>
<line x1="106.76" y1="575.70" x2="106.76" y2="578.58" stroke="#000" stroke-width="1.2"/>
<line x1="105.86" y1="575.70" x2="107.66" y2="575.70" stroke="#000" stroke-width="1.2"/>
<rect x="111.43" y="567.77" width="2.65" height="29.83" fill="#8f8e93" stroke="#000" stroke-width="1.2"/>
<line x1="112.76" y1="565.46" x2="112.76" y2="567.77" stroke="#000" stroke-width="1.2"/>
<line x1="111.86" y1="565.46" x2="113.66" y2="565.46" stroke="#000" stroke-width="1.2"/>
<rect x="117.43" y="562.37" width="2.65" height="35.23" fill="#000" stroke="#000" stroke-width="1.2"/>
<line x1="118.76" y1="559.77" x2="118.76" y2="562.37" stroke="#000" stroke-width="1.2"/>
<line x1="117.86" y1="559.77" x2="119.66" y2="559.77" stroke="#000" stroke-width="1.2"/>
<rect x="123.43" y="551.70" width="2.65" height="45.90" fill="#fff" stroke="#000" stroke-width="1.2"/>
<line x1="123.43" y1="555.60" x2="126.08" y2="555.60" stroke="#000" stroke-width="1.55"/>
<line x1="123.43" y1="560.75" x2="126.08" y2="560.75" stroke="#000" stroke-width="1.55"/>
<line x1="123.43" y1="565.90" x2="126.08" y2="565.90" stroke="#000" stroke-width="1.55"/>
<line x1="123.43" y1="571.05" x2="126.08" y2="571.05" stroke="#000" stroke-width="1.55"/>
<line x1="123.43" y1="576.20" x2="126.08" y2="576.20" stroke="#000" stroke-width="1.55"/>
<line x1="123.43" y1="581.35" x2="126.08" y2="581.35" stroke="#000" stroke-width="1.55"/>
<line x1="123.43" y1="586.50" x2="126.08" y2="586.50" stroke="#000" stroke-width="1.55"/>
<line x1="123.43" y1="591.65" x2="126.08" y2="591.65" stroke="#000" stroke-width="1.55"/>
<line x1="124.76" y1="548.40" x2="124.76" y2="551.70" stroke="#000" stroke-width="1.2"/>
<line x1="123.86" y1="548.40" x2="125.66" y2="548.40" stroke="#000" stroke-width="1.2"/>
<rect x="132.86" y="593.37" width="2.65" height="4.23" fill="#fff" stroke="#000" stroke-width="1.2"/>
<line x1="134.19" y1="591.63" x2="134.19" y2="593.37" stroke="#000" stroke-width="1.2"/>
<line x1="133.29" y1="591.63" x2="135.09" y2="591.63" stroke="#000" stroke-width="1.2"/>
<rect x="138.86" y="589.38" width="2.65" height="8.22" fill="#8f8e93" stroke="#000" stroke-width="1.2"/>
<line x1="140.19" y1="587.50" x2="140.19" y2="589.38" stroke="#000" stroke-width="1.2"/>
<line x1="139.29" y1="587.50" x2="141.09" y2="587.50" stroke="#000" stroke-width="1.2"/>
<rect x="144.86" y="587.68" width="2.65" height="9.92" fill="#000" stroke="#000" stroke-width="1.2"/>
<line x1="146.19" y1="585.09" x2="146.19" y2="587.68" stroke="#000" stroke-width="1.2"/>
<line x1="145.29" y1="585.09" x2="147.09" y2="585.09" stroke="#000" stroke-width="1.2"/>
<rect x="150.86" y="580.85" width="2.65" height="16.75" fill="#fff" stroke="#000" stroke-width="1.2"/>
<line x1="150.86" y1="584.75" x2="153.52" y2="584.75" stroke="#000" stroke-width="1.55"/>
<line x1="150.86" y1="589.90" x2="153.52" y2="589.90" stroke="#000" stroke-width="1.55"/>
<line x1="150.86" y1="595.05" x2="153.52" y2="595.05" stroke="#000" stroke-width="1.55"/>
<line x1="152.19" y1="577.41" x2="152.19" y2="580.85" stroke="#000" stroke-width="1.2"/>
<line x1="151.29" y1="577.41" x2="153.09" y2="577.41" stroke="#000" stroke-width="1.2"/>
<rect x="160.29" y="595.36" width="2.65" height="2.24" fill="#fff" stroke="#000" stroke-width="1.2"/>
<line x1="161.62" y1="593.90" x2="161.62" y2="595.36" stroke="#000" stroke-width="1.2"/>
<line x1="160.72" y1="593.90" x2="162.52" y2="593.90" stroke="#000" stroke-width="1.2"/>
<rect x="166.29" y="592.23" width="2.65" height="5.37" fill="#8f8e93" stroke="#000" stroke-width="1.2"/>
<line x1="167.62" y1="590.21" x2="167.62" y2="592.23" stroke="#000" stroke-width="1.2"/>
<line x1="166.72" y1="590.21" x2="168.52" y2="590.21" stroke="#000" stroke-width="1.2"/>
<rect x="172.29" y="590.52" width="2.65" height="7.08" fill="#000" stroke="#000" stroke-width="1.2"/>
<line x1="173.62" y1="588.21" x2="173.62" y2="590.52" stroke="#000" stroke-width="1.2"/>
<line x1="172.72" y1="588.21" x2="174.52" y2="588.21" stroke="#000" stroke-width="1.2"/>
<rect x="178.29" y="587.39" width="2.65" height="10.21" fill="#fff" stroke="#000" stroke-width="1.2"/>
<line x1="178.29" y1="591.29" x2="180.95" y2="591.29" stroke="#000" stroke-width="1.55"/>
<line x1="179.62" y1="585.09" x2="179.62" y2="587.39" stroke="#000" stroke-width="1.2"/>
<line x1="178.72" y1="585.09" x2="180.52" y2="585.09" stroke="#000" stroke-width="1.2"/>
<rect x="187.72" y="588.81" width="2.65" height="8.79" fill="#fff" stroke="#000" stroke-width="1.2"/>
<line x1="189.05" y1="585.94" x2="189.05" y2="588.81" stroke="#000" stroke-width="1.2"/>
<line x1="188.15" y1="585.94" x2="189.95" y2="585.94" stroke="#000" stroke-width="1.2"/>
<rect x="193.72" y="586.54" width="2.65" height="11.06" fill="#8f8e93" stroke="#000" stroke-width="1.2"/>
<line x1="195.05" y1="584.23" x2="195.05" y2="586.54" stroke="#000" stroke-width="1.2"/>
<line x1="194.15" y1="584.23" x2="195.95" y2="584.23" stroke="#000" stroke-width="1.2"/>
<rect x="199.72" y="584.83" width="2.65" height="12.77" fill="#000" stroke="#000" stroke-width="1.2"/>
<line x1="201.05" y1="581.39" x2="201.05" y2="584.83" stroke="#000" stroke-width="1.2"/>
<line x1="200.15" y1="581.39" x2="201.95" y2="581.39" stroke="#000" stroke-width="1.2"/>
<rect x="205.72" y="585.69" width="2.65" height="11.91" fill="#fff" stroke="#000" stroke-width="1.2"/>
<line x1="205.72" y1="589.59" x2="208.38" y2="589.59" stroke="#000" stroke-width="1.55"/>
<line x1="205.72" y1="594.74" x2="208.38" y2="594.74" stroke="#000" stroke-width="1.55"/>
<line x1="207.05" y1="581.82" x2="207.05" y2="585.69" stroke="#000" stroke-width="1.2"/>
<line x1="206.15" y1="581.82" x2="207.95" y2="581.82" stroke="#000" stroke-width="1.2"/>
<rect x="215.15" y="594.22" width="2.65" height="3.38" fill="#fff" stroke="#000" stroke-width="1.2"/>
<line x1="216.48" y1="592.48" x2="216.48" y2="594.22" stroke="#000" stroke-width="1.2"/>
<line x1="215.58" y1="592.48" x2="217.38" y2="592.48" stroke="#000" stroke-width="1.2"/>
<rect x="221.15" y="592.51" width="2.65" height="5.09" fill="#8f8e93" stroke="#000" stroke-width="1.2"/>
<line x1="222.48" y1="590.77" x2="222.48" y2="592.51" stroke="#000" stroke-width="1.2"/>
<line x1="221.58" y1="590.77" x2="223.38" y2="590.77" stroke="#000" stroke-width="1.2"/>
<rect x="227.15" y="592.51" width="2.65" height="5.09" fill="#000" stroke="#000" stroke-width="1.2"/>
<line x1="228.48" y1="590.77" x2="228.48" y2="592.51" stroke="#000" stroke-width="1.2"/>
<line x1="227.58" y1="590.77" x2="229.38" y2="590.77" stroke="#000" stroke-width="1.2"/>
<rect x="233.15" y="593.65" width="2.65" height="3.95" fill="#fff" stroke="#000" stroke-width="1.2"/>
<line x1="234.48" y1="591.91" x2="234.48" y2="593.65" stroke="#000" stroke-width="1.2"/>
<line x1="233.58" y1="591.91" x2="235.38" y2="591.91" stroke="#000" stroke-width="1.2"/>
<line x1="63.80" y1="479.80" x2="70.20" y2="479.80" stroke="#000" stroke-width="1.3"/>
<text x="67.00" y="478.00" font-size="7.5" font-weight="bold" font-family="'Liberation Sans', sans-serif" text-anchor="middle" fill="#000" class="st">*</text>
<line x1="91.23" y1="530.00" x2="97.63" y2="530.00" stroke="#000" stroke-width="1.3"/>
<text x="94.53" y="526.60" font-size="7.7" font-weight="bold" font-family="'Liberation Sans', sans-serif" text-anchor="middle" fill="#000" textLength="8.00" lengthAdjust="spacingAndGlyphs">ns</text>
<line x1="118.66" y1="544.50" x2="125.06" y2="544.50" stroke="#000" stroke-width="1.3"/>
<text x="121.86" y="543.40" font-size="7.5" font-weight="bold" font-family="'Liberation Sans', sans-serif" text-anchor="middle" fill="#000" class="st">**</text>
<line x1="146.09" y1="574.60" x2="152.49" y2="574.60" stroke="#000" stroke-width="1.3"/>
<text x="149.29" y="572.60" font-size="7.5" font-weight="bold" font-family="'Liberation Sans', sans-serif" text-anchor="middle" fill="#000" class="st">*</text>
<line x1="173.52" y1="582.30" x2="179.92" y2="582.30" stroke="#000" stroke-width="1.3"/>
<text x="176.82" y="578.40" font-size="7.7" font-weight="bold" font-family="'Liberation Sans', sans-serif" text-anchor="middle" fill="#000" textLength="8.00" lengthAdjust="spacingAndGlyphs">ns</text>
<line x1="200.95" y1="578.60" x2="207.35" y2="578.60" stroke="#000" stroke-width="1.3"/>
<text x="204.25" y="573.60" font-size="7.7" font-weight="bold" font-family="'Liberation Sans', sans-serif" text-anchor="middle" fill="#000" textLength="8.00" lengthAdjust="spacingAndGlyphs">ns</text>
<line x1="228.38" y1="587.50" x2="234.78" y2="587.50" stroke="#000" stroke-width="1.3"/>
<text x="231.68" y="582.80" font-size="7.7" font-weight="bold" font-family="'Liberation Sans', sans-serif" text-anchor="middle" fill="#000" textLength="8.00" lengthAdjust="spacingAndGlyphs">ns</text>
<text transform="translate(63.50 610.00) rotate(-45)" font-size="9.5" font-weight="bold" font-family="'Liberation Sans', sans-serif" text-anchor="end">CD3<tspan font-size="6.65" dy="-3.6">+</tspan><tspan dy="3.6">T</tspan></text>
<text transform="translate(90.93 610.00) rotate(-45)" font-size="9.5" font-weight="bold" font-family="'Liberation Sans', sans-serif" text-anchor="end">CD4<tspan font-size="6.65" dy="-3.6">+</tspan><tspan dy="3.6">T</tspan></text>
<text transform="translate(118.36 610.00) rotate(-45)" font-size="9.5" font-weight="bold" font-family="'Liberation Sans', sans-serif" text-anchor="end">CD8<tspan font-size="6.65" dy="-3.6">+</tspan><tspan dy="3.6">T</tspan></text>
<text transform="translate(145.79 610.00) rotate(-45)" font-size="9.5" font-weight="bold" font-family="'Liberation Sans', sans-serif" text-anchor="end">DCs</text>
<text transform="translate(173.22 610.00) rotate(-45)" font-size="9.5" font-weight="bold" font-family="'Liberation Sans', sans-serif" text-anchor="end">NK</text>
<text transform="translate(200.65 610.00) rotate(-45)" font-size="9.5" font-weight="bold" font-family="'Liberation Sans', sans-serif" text-anchor="end">Mø</text>
<text transform="translate(228.08 610.00) rotate(-45)" font-size="9.5" font-weight="bold" font-family="'Liberation Sans', sans-serif" text-anchor="end">MDSC</text>
<text x="128.20" y="450.80" font-size="10.8" font-weight="bold" font-family="'Liberation Sans', sans-serif" text-anchor="start" fill="#000" textLength="33.50" lengthAdjust="spacingAndGlyphs">Spleen</text>
<text transform="translate(24.0 534.4) rotate(-90)" font-size="9.4" font-weight="bold" font-family="'Liberation Sans', sans-serif" text-anchor="middle">Percentage (%)</text>
<rect x="611.90" y="470.70" width="12.3" height="4.2" fill="#fff" stroke="#000" stroke-width="1.25"/>
<text x="633.20" y="476.10" font-size="9.7" font-weight="bold" font-family="'Liberation Sans', sans-serif" text-anchor="start" fill="#000" textLength="75.70" lengthAdjust="spacingAndGlyphs">PLGA/PEI-Vector</text>
<rect x="611.90" y="487.57" width="12.3" height="4.2" fill="#8f8e93" stroke="#000" stroke-width="1.25"/>
<text x="633.20" y="493.00" font-size="9.7" font-weight="bold" font-family="'Liberation Sans', sans-serif" text-anchor="start" fill="#000" textLength="81.50" lengthAdjust="spacingAndGlyphs">PLGA/PEI-HMGB1</text>
<rect x="611.90" y="504.44" width="12.3" height="4.2" fill="#000" stroke="#000" stroke-width="1.25"/>
<text x="633.20" y="509.70" font-size="9.7" font-weight="bold" font-family="'Liberation Sans', sans-serif" text-anchor="start" fill="#000" textLength="72.70" lengthAdjust="spacingAndGlyphs">PLGA/PEI-GPC3</text>
<rect x="610.70" y="521.31" width="12.3" height="4.2" fill="#fff" stroke="#000" stroke-width="1.25"/>
<text x="632.00" y="526.40" font-size="9.7" font-weight="bold" font-family="'Liberation Sans', sans-serif" text-anchor="start" fill="#000" textLength="111.00" lengthAdjust="spacingAndGlyphs">PLGA/PEI-HMGB1/GPC3</text>
<line x1="386.10" y1="467.25" x2="386.10" y2="597.65" stroke="#000" stroke-width="1.3"/>
<line x1="385.55" y1="597.10" x2="581.30" y2="597.10" stroke="#000" stroke-width="1.3"/>
<line x1="382.90" y1="597.10" x2="386.10" y2="597.10" stroke="#000" stroke-width="1.3"/>
<text x="380.30" y="600.70" font-size="9.5" font-weight="bold" font-family="'Liberation Sans', sans-serif" text-anchor="end" fill="#000">0</text>
<line x1="382.90" y1="554.00" x2="386.10" y2="554.00" stroke="#000" stroke-width="1.3"/>
<text x="380.30" y="557.60" font-size="9.5" font-weight="bold" font-family="'Liberation Sans', sans-serif" text-anchor="end" fill="#000">10</text>
<line x1="382.90" y1="510.90" x2="386.10" y2="510.90" stroke="#000" stroke-width="1.3"/>
<text x="380.30" y="514.50" font-size="9.5" font-weight="bold" font-family="'Liberation Sans', sans-serif" text-anchor="end" fill="#000">20</text>
<line x1="382.90" y1="467.80" x2="386.10" y2="467.80" stroke="#000" stroke-width="1.3"/>
<text x="380.30" y="471.40" font-size="9.5" font-weight="bold" font-family="'Liberation Sans', sans-serif" text-anchor="end" fill="#000">30</text>
<line x1="399.90" y1="597.10" x2="399.90" y2="601.00" stroke="#000" stroke-width="1.3"/>
<line x1="427.68" y1="597.10" x2="427.68" y2="601.00" stroke="#000" stroke-width="1.3"/>
<line x1="455.46" y1="597.10" x2="455.46" y2="601.00" stroke="#000" stroke-width="1.3"/>
<line x1="483.24" y1="597.10" x2="483.24" y2="601.00" stroke="#000" stroke-width="1.3"/>
<line x1="511.02" y1="597.10" x2="511.02" y2="601.00" stroke="#000" stroke-width="1.3"/>
<line x1="538.80" y1="597.10" x2="538.80" y2="601.00" stroke="#000" stroke-width="1.3"/>
<line x1="566.58" y1="597.10" x2="566.58" y2="601.00" stroke="#000" stroke-width="1.3"/>
<rect x="389.75" y="527.88" width="2.30" height="69.22" fill="#fff" stroke="#000" stroke-width="1.2"/>
<line x1="390.90" y1="522.97" x2="390.90" y2="527.88" stroke="#000" stroke-width="1.2"/>
<line x1="390.00" y1="522.97" x2="391.80" y2="522.97" stroke="#000" stroke-width="1.2"/>
<rect x="395.75" y="513.22" width="2.30" height="83.88" fill="#8f8e93" stroke="#000" stroke-width="1.2"/>
<line x1="396.90" y1="507.45" x2="396.90" y2="513.22" stroke="#000" stroke-width="1.2"/>
<line x1="396.00" y1="507.45" x2="397.80" y2="507.45" stroke="#000" stroke-width="1.2"/>
<rect x="401.75" y="505.90" width="2.30" height="91.20" fill="#000" stroke="#000" stroke-width="1.2"/>
<line x1="402.90" y1="499.26" x2="402.90" y2="505.90" stroke="#000" stroke-width="1.2"/>
<line x1="402.00" y1="499.26" x2="403.80" y2="499.26" stroke="#000" stroke-width="1.2"/>
<rect x="407.75" y="486.93" width="2.30" height="110.17" fill="#fff" stroke="#000" stroke-width="1.2"/>
<line x1="407.75" y1="490.83" x2="410.05" y2="490.83" stroke="#000" stroke-width="1.55"/>
<line x1="407.75" y1="495.98" x2="410.05" y2="495.98" stroke="#000" stroke-width="1.55"/>
<line x1="407.75" y1="501.13" x2="410.05" y2="501.13" stroke="#000" stroke-width="1.55"/>
<line x1="407.75" y1="506.28" x2="410.05" y2="506.28" stroke="#000" stroke-width="1.55"/>
<line x1="407.75" y1="511.43" x2="410.05" y2="511.43" stroke="#000" stroke-width="1.55"/>
<line x1="407.75" y1="516.58" x2="410.05" y2="516.58" stroke="#000" stroke-width="1.55"/>
<line x1="407.75" y1="521.73" x2="410.05" y2="521.73" stroke="#000" stroke-width="1.55"/>
<line x1="407.75" y1="526.88" x2="410.05" y2="526.88" stroke="#000" stroke-width="1.55"/>
<line x1="407.75" y1="532.03" x2="410.05" y2="532.03" stroke="#000" stroke-width="1.55"/>
<line x1="407.75" y1="537.18" x2="410.05" y2="537.18" stroke="#000" stroke-width="1.55"/>
<line x1="407.75" y1="542.33" x2="410.05" y2="542.33" stroke="#000" stroke-width="1.55"/>
<line x1="407.75" y1="547.48" x2="410.05" y2="547.48" stroke="#000" stroke-width="1.55"/>
<line x1="407.75" y1="552.63" x2="410.05" y2="552.63" stroke="#000" stroke-width="1.55"/>
<line x1="407.75" y1="557.78" x2="410.05" y2="557.78" stroke="#000" stroke-width="1.55"/>
<line x1="407.75" y1="562.93" x2="410.05" y2="562.93" stroke="#000" stroke-width="1.55"/>
<line x1="407.75" y1="568.08" x2="410.05" y2="568.08" stroke="#000" stroke-width="1.55"/>
<line x1="407.75" y1="573.23" x2="410.05" y2="573.23" stroke="#000" stroke-width="1.55"/>
<line x1="407.75" y1="578.38" x2="410.05" y2="578.38" stroke="#000" stroke-width="1.55"/>
<line x1="407.75" y1="583.53" x2="410.05" y2="583.53" stroke="#000" stroke-width="1.55"/>
<line x1="407.75" y1="588.68" x2="410.05" y2="588.68" stroke="#000" stroke-width="1.55"/>
<line x1="407.75" y1="593.83" x2="410.05" y2="593.83" stroke="#000" stroke-width="1.55"/>
<line x1="408.90" y1="480.30" x2="408.90" y2="486.93" stroke="#000" stroke-width="1.2"/>
<line x1="408.00" y1="480.30" x2="409.80" y2="480.30" stroke="#000" stroke-width="1.2"/>
<rect x="417.53" y="563.65" width="2.30" height="33.45" fill="#fff" stroke="#000" stroke-width="1.2"/>
<line x1="418.68" y1="560.03" x2="418.68" y2="563.65" stroke="#000" stroke-width="1.2"/>
<line x1="417.78" y1="560.03" x2="419.58" y2="560.03" stroke="#000" stroke-width="1.2"/>
<rect x="423.53" y="560.63" width="2.30" height="36.47" fill="#8f8e93" stroke="#000" stroke-width="1.2"/>
<line x1="424.68" y1="557.45" x2="424.68" y2="560.63" stroke="#000" stroke-width="1.2"/>
<line x1="423.78" y1="557.45" x2="425.58" y2="557.45" stroke="#000" stroke-width="1.2"/>
<rect x="429.53" y="559.34" width="2.30" height="37.76" fill="#000" stroke="#000" stroke-width="1.2"/>
<line x1="430.68" y1="554.00" x2="430.68" y2="559.34" stroke="#000" stroke-width="1.2"/>
<line x1="429.78" y1="554.00" x2="431.58" y2="554.00" stroke="#000" stroke-width="1.2"/>
<rect x="435.53" y="554.60" width="2.30" height="42.50" fill="#fff" stroke="#000" stroke-width="1.2"/>
<line x1="435.53" y1="558.50" x2="437.83" y2="558.50" stroke="#000" stroke-width="1.55"/>
<line x1="435.53" y1="563.65" x2="437.83" y2="563.65" stroke="#000" stroke-width="1.55"/>
<line x1="435.53" y1="568.80" x2="437.83" y2="568.80" stroke="#000" stroke-width="1.55"/>
<line x1="435.53" y1="573.95" x2="437.83" y2="573.95" stroke="#000" stroke-width="1.55"/>
<line x1="435.53" y1="579.10" x2="437.83" y2="579.10" stroke="#000" stroke-width="1.55"/>
<line x1="435.53" y1="584.25" x2="437.83" y2="584.25" stroke="#000" stroke-width="1.55"/>
<line x1="435.53" y1="589.40" x2="437.83" y2="589.40" stroke="#000" stroke-width="1.55"/>
<line x1="435.53" y1="594.55" x2="437.83" y2="594.55" stroke="#000" stroke-width="1.55"/>
<line x1="436.68" y1="549.69" x2="436.68" y2="554.60" stroke="#000" stroke-width="1.2"/>
<line x1="435.78" y1="549.69" x2="437.58" y2="549.69" stroke="#000" stroke-width="1.2"/>
<rect x="445.31" y="562.79" width="2.30" height="34.31" fill="#fff" stroke="#000" stroke-width="1.2"/>
<line x1="446.46" y1="559.17" x2="446.46" y2="562.79" stroke="#000" stroke-width="1.2"/>
<line x1="445.56" y1="559.17" x2="447.36" y2="559.17" stroke="#000" stroke-width="1.2"/>
<rect x="451.31" y="550.29" width="2.30" height="46.81" fill="#8f8e93" stroke="#000" stroke-width="1.2"/>
<line x1="452.46" y1="544.09" x2="452.46" y2="550.29" stroke="#000" stroke-width="1.2"/>
<line x1="451.56" y1="544.09" x2="453.36" y2="544.09" stroke="#000" stroke-width="1.2"/>
<rect x="457.31" y="543.39" width="2.30" height="53.71" fill="#000" stroke="#000" stroke-width="1.2"/>
<line x1="458.46" y1="537.62" x2="458.46" y2="543.39" stroke="#000" stroke-width="1.2"/>
<line x1="457.56" y1="537.62" x2="459.36" y2="537.62" stroke="#000" stroke-width="1.2"/>
<rect x="463.31" y="521.41" width="2.30" height="75.69" fill="#fff" stroke="#000" stroke-width="1.2"/>
<line x1="463.31" y1="525.31" x2="465.61" y2="525.31" stroke="#000" stroke-width="1.55"/>
<line x1="463.31" y1="530.46" x2="465.61" y2="530.46" stroke="#000" stroke-width="1.55"/>
<line x1="463.31" y1="535.61" x2="465.61" y2="535.61" stroke="#000" stroke-width="1.55"/>
<line x1="463.31" y1="540.76" x2="465.61" y2="540.76" stroke="#000" stroke-width="1.55"/>
<line x1="463.31" y1="545.91" x2="465.61" y2="545.91" stroke="#000" stroke-width="1.55"/>
<line x1="463.31" y1="551.06" x2="465.61" y2="551.06" stroke="#000" stroke-width="1.55"/>
<line x1="463.31" y1="556.21" x2="465.61" y2="556.21" stroke="#000" stroke-width="1.55"/>
<line x1="463.31" y1="561.36" x2="465.61" y2="561.36" stroke="#000" stroke-width="1.55"/>
<line x1="463.31" y1="566.51" x2="465.61" y2="566.51" stroke="#000" stroke-width="1.55"/>
<line x1="463.31" y1="571.66" x2="465.61" y2="571.66" stroke="#000" stroke-width="1.55"/>
<line x1="463.31" y1="576.81" x2="465.61" y2="576.81" stroke="#000" stroke-width="1.55"/>
<line x1="463.31" y1="581.96" x2="465.61" y2="581.96" stroke="#000" stroke-width="1.55"/>
<line x1="463.31" y1="587.11" x2="465.61" y2="587.11" stroke="#000" stroke-width="1.55"/>
<line x1="463.31" y1="592.26" x2="465.61" y2="592.26" stroke="#000" stroke-width="1.55"/>
<line x1="464.46" y1="515.64" x2="464.46" y2="521.41" stroke="#000" stroke-width="1.2"/>
<line x1="463.56" y1="515.64" x2="465.36" y2="515.64" stroke="#000" stroke-width="1.2"/>
<rect x="473.09" y="591.88" width="2.30" height="5.22" fill="#fff" stroke="#000" stroke-width="1.2"/>
<line x1="474.24" y1="589.99" x2="474.24" y2="591.88" stroke="#000" stroke-width="1.2"/>
<line x1="473.34" y1="589.99" x2="475.14" y2="589.99" stroke="#000" stroke-width="1.2"/>
<rect x="479.09" y="585.42" width="2.30" height="11.68" fill="#8f8e93" stroke="#000" stroke-width="1.2"/>
<line x1="480.24" y1="583.52" x2="480.24" y2="585.42" stroke="#000" stroke-width="1.2"/>
<line x1="479.34" y1="583.52" x2="481.14" y2="583.52" stroke="#000" stroke-width="1.2"/>
<rect x="485.09" y="586.93" width="2.30" height="10.17" fill="#000" stroke="#000" stroke-width="1.2"/>
<line x1="486.24" y1="584.60" x2="486.24" y2="586.93" stroke="#000" stroke-width="1.2"/>
<line x1="485.34" y1="584.60" x2="487.14" y2="584.60" stroke="#000" stroke-width="1.2"/>
<rect x="491.09" y="577.23" width="2.30" height="19.87" fill="#fff" stroke="#000" stroke-width="1.2"/>
<line x1="491.09" y1="581.13" x2="493.39" y2="581.13" stroke="#000" stroke-width="1.55"/>
<line x1="491.09" y1="586.28" x2="493.39" y2="586.28" stroke="#000" stroke-width="1.55"/>
<line x1="491.09" y1="591.43" x2="493.39" y2="591.43" stroke="#000" stroke-width="1.55"/>
<line x1="492.24" y1="574.47" x2="492.24" y2="577.23" stroke="#000" stroke-width="1.2"/>
<line x1="491.34" y1="574.47" x2="493.14" y2="574.47" stroke="#000" stroke-width="1.2"/>
<rect x="500.87" y="594.68" width="2.30" height="2.42" fill="#fff" stroke="#000" stroke-width="1.2"/>
<line x1="502.02" y1="593.01" x2="502.02" y2="594.68" stroke="#000" stroke-width="1.2"/>
<line x1="501.12" y1="593.01" x2="502.92" y2="593.01" stroke="#000" stroke-width="1.2"/>
<rect x="506.87" y="591.45" width="2.30" height="5.65" fill="#8f8e93" stroke="#000" stroke-width="1.2"/>
<line x1="508.02" y1="589.56" x2="508.02" y2="591.45" stroke="#000" stroke-width="1.2"/>
<line x1="507.12" y1="589.56" x2="508.92" y2="589.56" stroke="#000" stroke-width="1.2"/>
<rect x="512.87" y="591.45" width="2.30" height="5.65" fill="#000" stroke="#000" stroke-width="1.2"/>
<line x1="514.02" y1="589.99" x2="514.02" y2="591.45" stroke="#000" stroke-width="1.2"/>
<line x1="513.12" y1="589.99" x2="514.92" y2="589.99" stroke="#000" stroke-width="1.2"/>
<rect x="518.87" y="588.65" width="2.30" height="8.45" fill="#fff" stroke="#000" stroke-width="1.2"/>
<line x1="518.87" y1="592.55" x2="521.17" y2="592.55" stroke="#000" stroke-width="1.55"/>
<line x1="520.02" y1="586.97" x2="520.02" y2="588.65" stroke="#000" stroke-width="1.2"/>
<line x1="519.12" y1="586.97" x2="520.92" y2="586.97" stroke="#000" stroke-width="1.2"/>
<rect x="528.65" y="580.24" width="2.30" height="16.86" fill="#fff" stroke="#000" stroke-width="1.2"/>
<line x1="529.80" y1="577.49" x2="529.80" y2="580.24" stroke="#000" stroke-width="1.2"/>
<line x1="528.90" y1="577.49" x2="530.70" y2="577.49" stroke="#000" stroke-width="1.2"/>
<rect x="534.65" y="580.03" width="2.30" height="17.07" fill="#8f8e93" stroke="#000" stroke-width="1.2"/>
<line x1="535.80" y1="577.27" x2="535.80" y2="580.03" stroke="#000" stroke-width="1.2"/>
<line x1="534.90" y1="577.27" x2="536.70" y2="577.27" stroke="#000" stroke-width="1.2"/>
<rect x="540.65" y="572.49" width="2.30" height="24.61" fill="#000" stroke="#000" stroke-width="1.2"/>
<line x1="541.80" y1="569.52" x2="541.80" y2="572.49" stroke="#000" stroke-width="1.2"/>
<line x1="540.90" y1="569.52" x2="542.70" y2="569.52" stroke="#000" stroke-width="1.2"/>
<rect x="546.65" y="569.69" width="2.30" height="27.41" fill="#fff" stroke="#000" stroke-width="1.2"/>
<line x1="546.65" y1="573.59" x2="548.95" y2="573.59" stroke="#000" stroke-width="1.55"/>
<line x1="546.65" y1="578.74" x2="548.95" y2="578.74" stroke="#000" stroke-width="1.55"/>
<line x1="546.65" y1="583.88" x2="548.95" y2="583.88" stroke="#000" stroke-width="1.55"/>
<line x1="546.65" y1="589.03" x2="548.95" y2="589.03" stroke="#000" stroke-width="1.55"/>
<line x1="546.65" y1="594.18" x2="548.95" y2="594.18" stroke="#000" stroke-width="1.55"/>
<line x1="547.80" y1="566.93" x2="547.80" y2="569.69" stroke="#000" stroke-width="1.2"/>
<line x1="546.90" y1="566.93" x2="548.70" y2="566.93" stroke="#000" stroke-width="1.2"/>
<rect x="556.43" y="567.10" width="2.30" height="30.00" fill="#fff" stroke="#000" stroke-width="1.2"/>
<line x1="557.58" y1="564.56" x2="557.58" y2="567.10" stroke="#000" stroke-width="1.2"/>
<line x1="556.68" y1="564.56" x2="558.48" y2="564.56" stroke="#000" stroke-width="1.2"/>
<rect x="562.43" y="571.41" width="2.30" height="25.69" fill="#8f8e93" stroke="#000" stroke-width="1.2"/>
<line x1="563.58" y1="568.44" x2="563.58" y2="571.41" stroke="#000" stroke-width="1.2"/>
<line x1="562.68" y1="568.44" x2="564.48" y2="568.44" stroke="#000" stroke-width="1.2"/>
<rect x="568.43" y="566.24" width="2.30" height="30.86" fill="#000" stroke="#000" stroke-width="1.2"/>
<line x1="569.58" y1="563.48" x2="569.58" y2="566.24" stroke="#000" stroke-width="1.2"/>
<line x1="568.68" y1="563.48" x2="570.48" y2="563.48" stroke="#000" stroke-width="1.2"/>
<rect x="574.43" y="567.96" width="2.30" height="29.14" fill="#fff" stroke="#000" stroke-width="1.2"/>
<line x1="574.43" y1="571.86" x2="576.73" y2="571.86" stroke="#000" stroke-width="1.55"/>
<line x1="574.43" y1="577.01" x2="576.73" y2="577.01" stroke="#000" stroke-width="1.55"/>
<line x1="574.43" y1="582.16" x2="576.73" y2="582.16" stroke="#000" stroke-width="1.55"/>
<line x1="574.43" y1="587.31" x2="576.73" y2="587.31" stroke="#000" stroke-width="1.55"/>
<line x1="574.43" y1="592.46" x2="576.73" y2="592.46" stroke="#000" stroke-width="1.55"/>
<line x1="575.58" y1="564.99" x2="575.58" y2="567.96" stroke="#000" stroke-width="1.2"/>
<line x1="574.68" y1="564.99" x2="576.48" y2="564.99" stroke="#000" stroke-width="1.2"/>
<line x1="402.80" y1="476.50" x2="409.20" y2="476.50" stroke="#000" stroke-width="1.3"/>
<text x="406.00" y="475.00" font-size="7.5" font-weight="bold" font-family="'Liberation Sans', sans-serif" text-anchor="middle" fill="#000" class="st">*</text>
<line x1="430.58" y1="545.90" x2="436.98" y2="545.90" stroke="#000" stroke-width="1.3"/>
<text x="433.88" y="542.60" font-size="7.7" font-weight="bold" font-family="'Liberation Sans', sans-serif" text-anchor="middle" fill="#000" textLength="8.00" lengthAdjust="spacingAndGlyphs">ns</text>
<line x1="458.36" y1="510.70" x2="464.76" y2="510.70" stroke="#000" stroke-width="1.3"/>
<text x="461.56" y="509.20" font-size="7.5" font-weight="bold" font-family="'Liberation Sans', sans-serif" text-anchor="middle" fill="#000" class="st">*</text>
<line x1="486.14" y1="570.00" x2="492.54" y2="570.00" stroke="#000" stroke-width="1.3"/>
<text x="489.34" y="568.00" font-size="7.5" font-weight="bold" font-family="'Liberation Sans', sans-serif" text-anchor="middle" fill="#000" class="st">**</text>
<line x1="513.92" y1="584.50" x2="520.32" y2="584.50" stroke="#000" stroke-width="1.3"/>
<text x="517.22" y="581.10" font-size="7.7" font-weight="bold" font-family="'Liberation Sans', sans-serif" text-anchor="middle" fill="#000" textLength="8.00" lengthAdjust="spacingAndGlyphs">ns</text>
<line x1="541.70" y1="563.40" x2="548.10" y2="563.40" stroke="#000" stroke-width="1.3"/>
<text x="545.00" y="559.80" font-size="7.7" font-weight="bold" font-family="'Liberation Sans', sans-serif" text-anchor="middle" fill="#000" textLength="8.00" lengthAdjust="spacingAndGlyphs">ns</text>
<line x1="569.48" y1="558.70" x2="575.88" y2="558.70" stroke="#000" stroke-width="1.3"/>
<text x="572.78" y="555.60" font-size="7.7" font-weight="bold" font-family="'Liberation Sans', sans-serif" text-anchor="middle" fill="#000" textLength="8.00" lengthAdjust="spacingAndGlyphs">ns</text>
<text transform="translate(402.50 609.60) rotate(-45)" font-size="9.5" font-weight="bold" font-family="'Liberation Sans', sans-serif" text-anchor="end">CD3<tspan font-size="6.65" dy="-3.6">+</tspan><tspan dy="3.6">T</tspan></text>
<text transform="translate(430.28 609.60) rotate(-45)" font-size="9.5" font-weight="bold" font-family="'Liberation Sans', sans-serif" text-anchor="end">CD4<tspan font-size="6.65" dy="-3.6">+</tspan><tspan dy="3.6">T</tspan></text>
<text transform="translate(458.06 609.60) rotate(-45)" font-size="9.5" font-weight="bold" font-family="'Liberation Sans', sans-serif" text-anchor="end">CD8<tspan font-size="6.65" dy="-3.6">+</tspan><tspan dy="3.6">T</tspan></text>
<text transform="translate(485.84 609.60) rotate(-45)" font-size="9.5" font-weight="bold" font-family="'Liberation Sans', sans-serif" text-anchor="end">DCs</text>
<text transform="translate(513.62 609.60) rotate(-45)" font-size="9.5" font-weight="bold" font-family="'Liberation Sans', sans-serif" text-anchor="end">NK</text>
<text transform="translate(541.40 609.60) rotate(-45)" font-size="9.5" font-weight="bold" font-family="'Liberation Sans', sans-serif" text-anchor="end">Mø</text>
<text transform="translate(569.18 609.60) rotate(-45)" font-size="9.5" font-weight="bold" font-family="'Liberation Sans', sans-serif" text-anchor="end">MDSC</text>
<text x="461.90" y="447.10" font-size="10.8" font-weight="bold" font-family="'Liberation Sans', sans-serif" text-anchor="start" fill="#000" textLength="20.70" lengthAdjust="spacingAndGlyphs">TILs</text>
<text transform="translate(361.7 533.1) rotate(-90)" font-size="9.8" font-weight="bold" font-family="'Liberation Sans', sans-serif" text-anchor="middle">Percentage (%)</text>
<line x1="47.10" y1="704.40" x2="47.10" y2="833.65" stroke="#000" stroke-width="1.3"/>
<line x1="46.45" y1="833.00" x2="239.90" y2="833.00" stroke="#000" stroke-width="1.3"/>
<line x1="43.70" y1="833.00" x2="47.10" y2="833.00" stroke="#000" stroke-width="1.3"/>
<text x="42.60" y="836.70" font-size="9.3" font-weight="bold" font-family="'Liberation Sans', sans-serif" text-anchor="end" fill="#000">0</text>
<line x1="43.70" y1="801.00" x2="47.10" y2="801.00" stroke="#000" stroke-width="1.3"/>
<text x="42.60" y="804.70" font-size="9.3" font-weight="bold" font-family="'Liberation Sans', sans-serif" text-anchor="end" fill="#000">1</text>
<line x1="43.70" y1="769.00" x2="47.10" y2="769.00" stroke="#000" stroke-width="1.3"/>
<text x="42.60" y="772.70" font-size="9.3" font-weight="bold" font-family="'Liberation Sans', sans-serif" text-anchor="end" fill="#000">2</text>
<line x1="43.70" y1="737.00" x2="47.10" y2="737.00" stroke="#000" stroke-width="1.3"/>
<text x="42.60" y="740.70" font-size="9.3" font-weight="bold" font-family="'Liberation Sans', sans-serif" text-anchor="end" fill="#000">3</text>
<line x1="43.70" y1="705.00" x2="47.10" y2="705.00" stroke="#000" stroke-width="1.3"/>
<text x="42.60" y="708.70" font-size="9.3" font-weight="bold" font-family="'Liberation Sans', sans-serif" text-anchor="end" fill="#000">4</text>
<line x1="93.30" y1="833.00" x2="93.30" y2="836.60" stroke="#000" stroke-width="1.3"/>
<line x1="193.00" y1="833.00" x2="193.00" y2="836.60" stroke="#000" stroke-width="1.3"/>
<rect x="54.50" y="817.60" width="14.30" height="15.40" fill="#fff" stroke="#000" stroke-width="1.3"/>
<line x1="61.65" y1="814.30" x2="61.65" y2="817.60" stroke="#000" stroke-width="1.3"/>
<line x1="58.35" y1="814.30" x2="64.95" y2="814.30" stroke="#000" stroke-width="1.3"/>
<rect x="75.90" y="811.30" width="13.90" height="21.70" fill="#8f8e93" stroke="#000" stroke-width="1.3"/>
<line x1="82.85" y1="807.30" x2="82.85" y2="811.30" stroke="#000" stroke-width="1.3"/>
<line x1="79.55" y1="807.30" x2="86.15" y2="807.30" stroke="#000" stroke-width="1.3"/>
<rect x="96.90" y="804.60" width="14.40" height="28.40" fill="#000" stroke="#000" stroke-width="1.3"/>
<line x1="104.10" y1="800.50" x2="104.10" y2="804.60" stroke="#000" stroke-width="1.3"/>
<line x1="100.80" y1="800.50" x2="107.40" y2="800.50" stroke="#000" stroke-width="1.3"/>
<rect x="119.00" y="775.60" width="13.50" height="57.40" fill="#fff" stroke="#000" stroke-width="1.3"/>
<line x1="119.00" y1="779.70" x2="132.50" y2="779.70" stroke="#000" stroke-width="1.7"/>
<line x1="119.00" y1="784.75" x2="132.50" y2="784.75" stroke="#000" stroke-width="1.7"/>
<line x1="119.00" y1="789.80" x2="132.50" y2="789.80" stroke="#000" stroke-width="1.7"/>
<line x1="119.00" y1="794.85" x2="132.50" y2="794.85" stroke="#000" stroke-width="1.7"/>
<line x1="119.00" y1="799.90" x2="132.50" y2="799.90" stroke="#000" stroke-width="1.7"/>
<line x1="119.00" y1="804.95" x2="132.50" y2="804.95" stroke="#000" stroke-width="1.7"/>
<line x1="119.00" y1="810.00" x2="132.50" y2="810.00" stroke="#000" stroke-width="1.7"/>
<line x1="119.00" y1="815.05" x2="132.50" y2="815.05" stroke="#000" stroke-width="1.7"/>
<line x1="119.00" y1="820.10" x2="132.50" y2="820.10" stroke="#000" stroke-width="1.7"/>
<line x1="119.00" y1="825.15" x2="132.50" y2="825.15" stroke="#000" stroke-width="1.7"/>
<line x1="119.00" y1="830.20" x2="132.50" y2="830.20" stroke="#000" stroke-width="1.7"/>
<line x1="125.75" y1="771.20" x2="125.75" y2="775.60" stroke="#000" stroke-width="1.3"/>
<line x1="122.45" y1="771.20" x2="129.05" y2="771.20" stroke="#000" stroke-width="1.3"/>
<rect x="154.40" y="818.80" width="13.30" height="14.20" fill="#fff" stroke="#000" stroke-width="1.3"/>
<line x1="161.05" y1="814.90" x2="161.05" y2="818.80" stroke="#000" stroke-width="1.3"/>
<line x1="157.75" y1="814.90" x2="164.35" y2="814.90" stroke="#000" stroke-width="1.3"/>
<rect x="175.60" y="787.90" width="13.50" height="45.10" fill="#8f8e93" stroke="#000" stroke-width="1.3"/>
<line x1="182.35" y1="782.50" x2="182.35" y2="787.90" stroke="#000" stroke-width="1.3"/>
<line x1="179.05" y1="782.50" x2="185.65" y2="782.50" stroke="#000" stroke-width="1.3"/>
<rect x="196.80" y="781.90" width="13.80" height="51.10" fill="#000" stroke="#000" stroke-width="1.3"/>
<line x1="203.70" y1="776.50" x2="203.70" y2="781.90" stroke="#000" stroke-width="1.3"/>
<line x1="200.40" y1="776.50" x2="207.00" y2="776.50" stroke="#000" stroke-width="1.3"/>
<rect x="218.30" y="734.70" width="13.50" height="98.30" fill="#fff" stroke="#000" stroke-width="1.3"/>
<line x1="218.30" y1="738.80" x2="231.80" y2="738.80" stroke="#000" stroke-width="1.7"/>
<line x1="218.30" y1="743.85" x2="231.80" y2="743.85" stroke="#000" stroke-width="1.7"/>
<line x1="218.30" y1="748.90" x2="231.80" y2="748.90" stroke="#000" stroke-width="1.7"/>
<line x1="218.30" y1="753.95" x2="231.80" y2="753.95" stroke="#000" stroke-width="1.7"/>
<line x1="218.30" y1="759.00" x2="231.80" y2="759.00" stroke="#000" stroke-width="1.7"/>
<line x1="218.30" y1="764.05" x2="231.80" y2="764.05" stroke="#000" stroke-width="1.7"/>
<line x1="218.30" y1="769.10" x2="231.80" y2="769.10" stroke="#000" stroke-width="1.7"/>
<line x1="218.30" y1="774.15" x2="231.80" y2="774.15" stroke="#000" stroke-width="1.7"/>
<line x1="218.30" y1="779.20" x2="231.80" y2="779.20" stroke="#000" stroke-width="1.7"/>
<line x1="218.30" y1="784.25" x2="231.80" y2="784.25" stroke="#000" stroke-width="1.7"/>
<line x1="218.30" y1="789.30" x2="231.80" y2="789.30" stroke="#000" stroke-width="1.7"/>
<line x1="218.30" y1="794.35" x2="231.80" y2="794.35" stroke="#000" stroke-width="1.7"/>
<line x1="218.30" y1="799.40" x2="231.80" y2="799.40" stroke="#000" stroke-width="1.7"/>
<line x1="218.30" y1="804.45" x2="231.80" y2="804.45" stroke="#000" stroke-width="1.7"/>
<line x1="218.30" y1="809.50" x2="231.80" y2="809.50" stroke="#000" stroke-width="1.7"/>
<line x1="218.30" y1="814.55" x2="231.80" y2="814.55" stroke="#000" stroke-width="1.7"/>
<line x1="218.30" y1="819.60" x2="231.80" y2="819.60" stroke="#000" stroke-width="1.7"/>
<line x1="218.30" y1="824.65" x2="231.80" y2="824.65" stroke="#000" stroke-width="1.7"/>
<line x1="218.30" y1="829.70" x2="231.80" y2="829.70" stroke="#000" stroke-width="1.7"/>
<line x1="225.05" y1="723.00" x2="225.05" y2="734.70" stroke="#000" stroke-width="1.3"/>
<line x1="221.75" y1="723.00" x2="228.35" y2="723.00" stroke="#000" stroke-width="1.3"/>
<line x1="105.90" y1="765.80" x2="125.30" y2="765.80" stroke="#000" stroke-width="1.3"/>
<text x="115.40" y="764.20" font-size="7.5" font-weight="bold" font-family="'Liberation Sans', sans-serif" text-anchor="middle" fill="#000" class="st">**</text>
<line x1="204.10" y1="717.80" x2="223.90" y2="717.80" stroke="#000" stroke-width="1.3"/>
<text x="212.60" y="716.60" font-size="7.5" font-weight="bold" font-family="'Liberation Sans', sans-serif" text-anchor="middle" fill="#000" class="st">**</text>
<line x1="217.00" y1="753.70" x2="219.20" y2="753.70" stroke="#000" stroke-width="1.2"/>
<text x="93.40" y="848.80" font-size="9.9" font-weight="bold" font-family="'Liberation Sans', sans-serif" text-anchor="middle">CD8<tspan font-size="6.14" dy="-3.9">+</tspan><tspan dy="3.9">CD11c</tspan><tspan font-size="6.14" dy="-3.9">+</tspan></text>
<text x="193.00" y="848.80" font-size="9.9" font-weight="bold" font-family="'Liberation Sans', sans-serif" text-anchor="middle">CD103<tspan font-size="6.14" dy="-3.9">+</tspan><tspan dy="3.9">CD11c</tspan><tspan font-size="6.14" dy="-3.9">+</tspan></text>
<text x="128.30" y="688.50" font-size="10.8" font-weight="bold" font-family="'Liberation Sans', sans-serif" text-anchor="start" fill="#000" textLength="33.60" lengthAdjust="spacingAndGlyphs">Spleen</text>
<text transform="translate(26.8 766.8) rotate(-90)" font-size="9.4" font-weight="bold" font-family="'Liberation Sans', sans-serif" text-anchor="middle">Percentage (%)</text>
<line x1="387.70" y1="704.00" x2="387.70" y2="833.45" stroke="#000" stroke-width="1.3"/>
<line x1="387.05" y1="832.80" x2="580.00" y2="832.80" stroke="#000" stroke-width="1.3"/>
<line x1="384.30" y1="832.80" x2="387.70" y2="832.80" stroke="#000" stroke-width="1.3"/>
<text x="382.20" y="836.50" font-size="9.6" font-weight="bold" font-family="'Liberation Sans', sans-serif" text-anchor="end" fill="#000">0.0</text>
<line x1="384.30" y1="800.75" x2="387.70" y2="800.75" stroke="#000" stroke-width="1.3"/>
<text x="382.20" y="804.45" font-size="9.6" font-weight="bold" font-family="'Liberation Sans', sans-serif" text-anchor="end" fill="#000">0.5</text>
<line x1="384.30" y1="768.70" x2="387.70" y2="768.70" stroke="#000" stroke-width="1.3"/>
<text x="382.20" y="772.40" font-size="9.6" font-weight="bold" font-family="'Liberation Sans', sans-serif" text-anchor="end" fill="#000">1.0</text>
<line x1="384.30" y1="736.65" x2="387.70" y2="736.65" stroke="#000" stroke-width="1.3"/>
<text x="382.20" y="740.35" font-size="9.6" font-weight="bold" font-family="'Liberation Sans', sans-serif" text-anchor="end" fill="#000">1.5</text>
<line x1="384.30" y1="704.60" x2="387.70" y2="704.60" stroke="#000" stroke-width="1.3"/>
<text x="382.20" y="708.30" font-size="9.6" font-weight="bold" font-family="'Liberation Sans', sans-serif" text-anchor="end" fill="#000">2.0</text>
<line x1="433.60" y1="832.80" x2="433.60" y2="836.40" stroke="#000" stroke-width="1.3"/>
<line x1="533.00" y1="832.80" x2="533.00" y2="836.40" stroke="#000" stroke-width="1.3"/>
<rect x="395.00" y="818.10" width="13.60" height="14.70" fill="#fff" stroke="#000" stroke-width="1.3"/>
<line x1="401.80" y1="810.70" x2="401.80" y2="818.10" stroke="#000" stroke-width="1.3"/>
<line x1="398.50" y1="810.70" x2="405.10" y2="810.70" stroke="#000" stroke-width="1.3"/>
<rect x="416.40" y="805.90" width="13.20" height="26.90" fill="#8f8e93" stroke="#000" stroke-width="1.3"/>
<line x1="423.00" y1="794.60" x2="423.00" y2="805.90" stroke="#000" stroke-width="1.3"/>
<line x1="419.70" y1="794.60" x2="426.30" y2="794.60" stroke="#000" stroke-width="1.3"/>
<rect x="437.70" y="790.50" width="13.70" height="42.30" fill="#000" stroke="#000" stroke-width="1.3"/>
<line x1="444.55" y1="784.90" x2="444.55" y2="790.50" stroke="#000" stroke-width="1.3"/>
<line x1="441.25" y1="784.90" x2="447.85" y2="784.90" stroke="#000" stroke-width="1.3"/>
<rect x="459.10" y="771.50" width="13.60" height="61.30" fill="#fff" stroke="#000" stroke-width="1.3"/>
<line x1="459.10" y1="775.60" x2="472.70" y2="775.60" stroke="#000" stroke-width="1.7"/>
<line x1="459.10" y1="780.73" x2="472.70" y2="780.73" stroke="#000" stroke-width="1.7"/>
<line x1="459.10" y1="785.86" x2="472.70" y2="785.86" stroke="#000" stroke-width="1.7"/>
<line x1="459.10" y1="790.99" x2="472.70" y2="790.99" stroke="#000" stroke-width="1.7"/>
<line x1="459.10" y1="796.12" x2="472.70" y2="796.12" stroke="#000" stroke-width="1.7"/>
<line x1="459.10" y1="801.25" x2="472.70" y2="801.25" stroke="#000" stroke-width="1.7"/>
<line x1="459.10" y1="806.38" x2="472.70" y2="806.38" stroke="#000" stroke-width="1.7"/>
<line x1="459.10" y1="811.51" x2="472.70" y2="811.51" stroke="#000" stroke-width="1.7"/>
<line x1="459.10" y1="816.64" x2="472.70" y2="816.64" stroke="#000" stroke-width="1.7"/>
<line x1="459.10" y1="821.77" x2="472.70" y2="821.77" stroke="#000" stroke-width="1.7"/>
<line x1="459.10" y1="826.90" x2="472.70" y2="826.90" stroke="#000" stroke-width="1.7"/>
<line x1="465.90" y1="764.70" x2="465.90" y2="771.50" stroke="#000" stroke-width="1.3"/>
<line x1="462.60" y1="764.70" x2="469.20" y2="764.70" stroke="#000" stroke-width="1.3"/>
<rect x="494.50" y="818.70" width="13.60" height="14.10" fill="#fff" stroke="#000" stroke-width="1.3"/>
<line x1="501.30" y1="812.60" x2="501.30" y2="818.70" stroke="#000" stroke-width="1.3"/>
<line x1="498.00" y1="812.60" x2="504.60" y2="812.60" stroke="#000" stroke-width="1.3"/>
<rect x="516.10" y="787.70" width="13.30" height="45.10" fill="#8f8e93" stroke="#000" stroke-width="1.3"/>
<line x1="522.75" y1="781.20" x2="522.75" y2="787.70" stroke="#000" stroke-width="1.3"/>
<line x1="519.45" y1="781.20" x2="526.05" y2="781.20" stroke="#000" stroke-width="1.3"/>
<rect x="537.00" y="781.60" width="14.00" height="51.20" fill="#000" stroke="#000" stroke-width="1.3"/>
<line x1="544.00" y1="775.00" x2="544.00" y2="781.60" stroke="#000" stroke-width="1.3"/>
<line x1="540.70" y1="775.00" x2="547.30" y2="775.00" stroke="#000" stroke-width="1.3"/>
<rect x="558.70" y="734.10" width="13.60" height="98.70" fill="#fff" stroke="#000" stroke-width="1.3"/>
<line x1="558.70" y1="738.20" x2="572.30" y2="738.20" stroke="#000" stroke-width="1.7"/>
<line x1="558.70" y1="743.33" x2="572.30" y2="743.33" stroke="#000" stroke-width="1.7"/>
<line x1="558.70" y1="748.46" x2="572.30" y2="748.46" stroke="#000" stroke-width="1.7"/>
<line x1="558.70" y1="753.59" x2="572.30" y2="753.59" stroke="#000" stroke-width="1.7"/>
<line x1="558.70" y1="758.72" x2="572.30" y2="758.72" stroke="#000" stroke-width="1.7"/>
<line x1="558.70" y1="763.85" x2="572.30" y2="763.85" stroke="#000" stroke-width="1.7"/>
<line x1="558.70" y1="768.98" x2="572.30" y2="768.98" stroke="#000" stroke-width="1.7"/>
<line x1="558.70" y1="774.11" x2="572.30" y2="774.11" stroke="#000" stroke-width="1.7"/>
<line x1="558.70" y1="779.24" x2="572.30" y2="779.24" stroke="#000" stroke-width="1.7"/>
<line x1="558.70" y1="784.37" x2="572.30" y2="784.37" stroke="#000" stroke-width="1.7"/>
<line x1="558.70" y1="789.50" x2="572.30" y2="789.50" stroke="#000" stroke-width="1.7"/>
<line x1="558.70" y1="794.63" x2="572.30" y2="794.63" stroke="#000" stroke-width="1.7"/>
<line x1="558.70" y1="799.76" x2="572.30" y2="799.76" stroke="#000" stroke-width="1.7"/>
<line x1="558.70" y1="804.89" x2="572.30" y2="804.89" stroke="#000" stroke-width="1.7"/>
<line x1="558.70" y1="810.02" x2="572.30" y2="810.02" stroke="#000" stroke-width="1.7"/>
<line x1="558.70" y1="815.15" x2="572.30" y2="815.15" stroke="#000" stroke-width="1.7"/>
<line x1="558.70" y1="820.28" x2="572.30" y2="820.28" stroke="#000" stroke-width="1.7"/>
<line x1="558.70" y1="825.41" x2="572.30" y2="825.41" stroke="#000" stroke-width="1.7"/>
<line x1="558.70" y1="830.54" x2="572.30" y2="830.54" stroke="#000" stroke-width="1.7"/>
<line x1="565.50" y1="719.50" x2="565.50" y2="734.10" stroke="#000" stroke-width="1.3"/>
<line x1="562.20" y1="719.50" x2="568.80" y2="719.50" stroke="#000" stroke-width="1.3"/>
<line x1="444.80" y1="759.30" x2="464.70" y2="759.30" stroke="#000" stroke-width="1.3"/>
<text x="455.00" y="757.60" font-size="7.5" font-weight="bold" font-family="'Liberation Sans', sans-serif" text-anchor="middle" fill="#000" class="st">**</text>
<line x1="544.10" y1="715.40" x2="565.20" y2="715.40" stroke="#000" stroke-width="1.3"/>
<text x="553.80" y="713.80" font-size="7.5" font-weight="bold" font-family="'Liberation Sans', sans-serif" text-anchor="middle" fill="#000" class="st">**</text>
<text x="433.70" y="847.90" font-size="9.9" font-weight="bold" font-family="'Liberation Sans', sans-serif" text-anchor="middle">CD8<tspan font-size="6.14" dy="-3.9">+</tspan><tspan dy="3.9">CD11c</tspan><tspan font-size="6.14" dy="-3.9">+</tspan></text>
<text x="533.20" y="847.90" font-size="9.9" font-weight="bold" font-family="'Liberation Sans', sans-serif" text-anchor="middle">CD103<tspan font-size="6.14" dy="-3.9">+</tspan><tspan dy="3.9">CD11c</tspan><tspan font-size="6.14" dy="-3.9">+</tspan></text>
<text x="459.70" y="689.10" font-size="10.8" font-weight="bold" font-family="'Liberation Sans', sans-serif" text-anchor="start" fill="#000" textLength="21.20" lengthAdjust="spacingAndGlyphs">TILs</text>
<text transform="translate(362.6 766.8) rotate(-90)" font-size="9.4" font-weight="bold" font-family="'Liberation Sans', sans-serif" text-anchor="middle">Percentage (%)</text>
<rect x="611.90" y="711.10" width="12.3" height="4.2" fill="#fff" stroke="#000" stroke-width="1.25"/>
<text x="632.60" y="716.90" font-size="9.7" font-weight="bold" font-family="'Liberation Sans', sans-serif" text-anchor="start" fill="#000" textLength="76.70" lengthAdjust="spacingAndGlyphs">PLGA/PEI-Vector</text>
<rect x="611.90" y="728.30" width="12.3" height="4.2" fill="#8f8e93" stroke="#000" stroke-width="1.25"/>
<text x="632.60" y="733.70" font-size="9.7" font-weight="bold" font-family="'Liberation Sans', sans-serif" text-anchor="start" fill="#000" textLength="81.00" lengthAdjust="spacingAndGlyphs">PLGA/PEI-HMGB1</text>
<rect x="611.90" y="745.50" width="12.3" height="4.2" fill="#000" stroke="#000" stroke-width="1.25"/>
<text x="632.60" y="750.80" font-size="9.7" font-weight="bold" font-family="'Liberation Sans', sans-serif" text-anchor="start" fill="#000" textLength="73.90" lengthAdjust="spacingAndGlyphs">PLGA/PEI-GPC3</text>
<rect x="611.90" y="762.70" width="12.3" height="4.2" fill="#fff" stroke="#000" stroke-width="1.25"/>
<text x="632.60" y="768.30" font-size="9.7" font-weight="bold" font-family="'Liberation Sans', sans-serif" text-anchor="start" fill="#000" textLength="110.50" lengthAdjust="spacingAndGlyphs">PLGA/PEI-HMGB1/GPC3</text>
</svg></body></html>
